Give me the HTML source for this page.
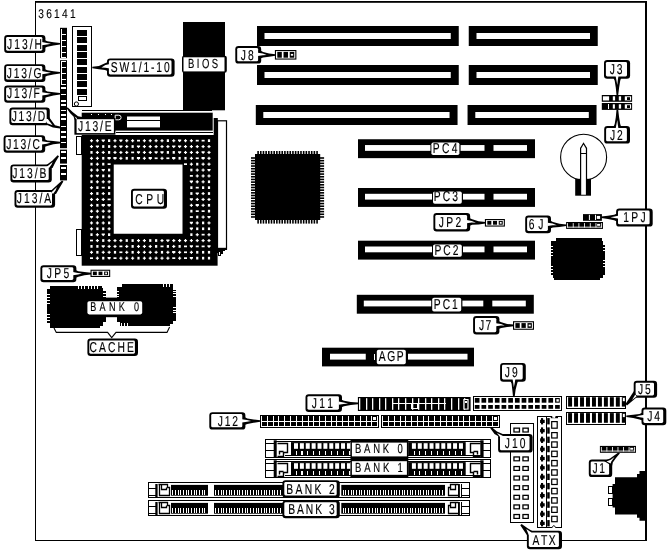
<!DOCTYPE html>
<html><head><meta charset="utf-8"><title>36141</title>
<style>
html,body{margin:0;padding:0;background:#fff;}
body{width:670px;height:553px;overflow:hidden;}
svg{display:block;will-change:transform;}
rect,polygon.c{shape-rendering:crispEdges;}
rect.a{shape-rendering:auto;}
text{font-family:"Liberation Sans",sans-serif;fill:#000;stroke:#000;stroke-width:0.15px;text-rendering:geometricPrecision;}
</style></head><body>
<svg width="670" height="553" viewBox="0 0 670 553">
<rect x="0" y="0" width="670" height="553" fill="#fff"/>
<rect x="35" y="1" width="1.05" height="539.9" fill="#000"/>
<rect x="35" y="1" width="612" height="1.8" fill="#000" class="a"/>
<rect x="645" y="1" width="2" height="539.9" fill="#000" class="a"/>
<rect x="35" y="539.6" width="612" height="1.3" fill="#000"/>
<text transform="translate(38.21 18) scale(0.8 1)" font-size="12.7" x="0 9.95 19.9 29.84 39.79">36141</text>
<rect x="257" y="26" width="201.75" height="20" fill="#000" class="a"/>
<rect x="264.5" y="33" width="186.25" height="6" fill="#fff" class="a"/>
<rect x="468.75" y="26" width="129" height="20" fill="#000" class="a"/>
<rect x="476.5" y="33" width="113.5" height="6" fill="#fff" class="a"/>
<rect x="257" y="65" width="201.75" height="20" fill="#000" class="a"/>
<rect x="264.5" y="72" width="186.25" height="6" fill="#fff" class="a"/>
<rect x="468.75" y="65" width="129" height="20" fill="#000" class="a"/>
<rect x="476.5" y="72" width="113.5" height="6" fill="#fff" class="a"/>
<rect x="255.8" y="105" width="201.75" height="20" fill="#000" class="a"/>
<rect x="263.3" y="112" width="186.25" height="6" fill="#fff" class="a"/>
<rect x="467.55" y="105" width="129" height="20" fill="#000" class="a"/>
<rect x="475.3" y="112" width="113.5" height="6" fill="#fff" class="a"/>
<rect x="358" y="139.25" width="177" height="18.9" fill="#000" class="a"/>
<rect x="365" y="145.05" width="119.5" height="5.8" fill="#fff" class="a"/>
<rect x="493.5" y="145.05" width="33.5" height="5.8" fill="#fff" class="a"/>
<rect x="430.4" y="141.4" width="30.2" height="14.9" rx="2.5" fill="#000" class="a"/>
<rect x="431.4" y="142.4" width="28" height="12.7" rx="1.8" fill="#fff" class="a"/>
<text transform="translate(432.76 153.4) scale(0.72 1)" font-size="14.3" x="0 12.74 26.27">PC4</text>
<rect x="358" y="188" width="177" height="18.9" fill="#000" class="a"/>
<rect x="365" y="193.8" width="119.5" height="5.8" fill="#fff" class="a"/>
<rect x="493.5" y="193.8" width="33.5" height="5.8" fill="#fff" class="a"/>
<rect x="432" y="190.4" width="31" height="14.6" rx="2.5" fill="#000" class="a"/>
<rect x="433" y="191.4" width="28.8" height="12.4" rx="1.8" fill="#fff" class="a"/>
<text transform="translate(433.76 200.9) scale(0.72 1)" font-size="14.3" x="0 12.5 25.79">PC3</text>
<rect x="358" y="240.7" width="177" height="18.9" fill="#000" class="a"/>
<rect x="365" y="246.5" width="119.5" height="5.8" fill="#fff" class="a"/>
<rect x="493.5" y="246.5" width="33.5" height="5.8" fill="#fff" class="a"/>
<rect x="432" y="243.5" width="31" height="14.5" rx="2.5" fill="#000" class="a"/>
<rect x="433" y="244.5" width="28.8" height="12.3" rx="1.8" fill="#fff" class="a"/>
<text transform="translate(434.46 254.9) scale(0.72 1)" font-size="14.3" x="0 12.34 25.46">PC2</text>
<rect x="356.8" y="294.8" width="177" height="18.9" fill="#000" class="a"/>
<rect x="363.8" y="300.6" width="119.5" height="5.8" fill="#fff" class="a"/>
<rect x="492.3" y="300.6" width="33.5" height="5.8" fill="#fff" class="a"/>
<rect x="431.2" y="296.7" width="31.2" height="16.1" rx="2.5" fill="#000" class="a"/>
<rect x="432.2" y="297.7" width="29" height="13.9" rx="1.8" fill="#fff" class="a"/>
<text transform="translate(433.86 308.9) scale(0.72 1)" font-size="14.3" x="0 12.26 25.31">PC1</text>
<rect x="322" y="347.7" width="152" height="18.7" fill="#000" class="a"/>
<rect x="330" y="353.75" width="35.75" height="5.85" fill="#fff" class="a"/>
<rect x="373.6" y="354" width="1.4" height="5.6" fill="#fff"/>
<rect x="408" y="353.75" width="59.5" height="5.85" fill="#fff" class="a"/>
<rect x="375.8" y="348.8" width="31.2" height="16.6" rx="2.5" fill="#000" class="a"/>
<rect x="376.8" y="349.8" width="29" height="14.4" rx="1.8" fill="#fff" class="a"/>
<text transform="translate(378.78 361.3) scale(0.72 1)" font-size="14.3" x="0 11.64 24.86">AGP</text>
<rect x="183" y="22" width="42" height="88.3" fill="#000" class="a"/>
<rect x="182" y="55.7" width="44.8" height="17" rx="2" fill="#000" class="a"/>
<rect x="183.5" y="57.3" width="41" height="14.1" fill="#fff" class="a"/>
<text transform="translate(188.02 67.7) scale(0.72 1)" font-size="13.2" x="0 12.23 19.33 33.02">BIOS</text>
<rect x="81.7" y="110.3" width="130.3" height="1" fill="#000"/>
<rect x="81.7" y="112.7" width="131" height="17.9" fill="#000" class="a"/>
<rect x="115.5" y="132.2" width="97.5" height="1" fill="#000"/>
<rect x="127" y="116.5" width="33" height="10.9" fill="#fff" class="a"/>
<rect x="127" y="119.9" width="33" height="1" fill="#000"/>
<rect x="90.8" y="114.2" width="1.2" height="1.2" fill="#fff"/>
<rect x="97.9" y="114.2" width="1.2" height="1.2" fill="#fff"/>
<rect x="104.7" y="114.2" width="1.2" height="1.2" fill="#fff"/>
<rect x="111.1" y="114.2" width="1.2" height="1.2" fill="#fff"/>
<path d="M115.2 115.2 h3.6 a2.3 2.3 0 0 1 0 4.6 h-3.6 z" fill="none" stroke="#fff" stroke-width="1"/>
<rect x="81.7" y="135" width="135.9" height="130.7" fill="#000" class="a"/>
<rect x="213.7" y="118" width="4.1" height="18" fill="#000" class="a"/>
<rect x="113.75" y="164.5" width="68.75" height="69.25" fill="#fff" class="a"/>
<rect x="76" y="136" width="6" height="19" fill="#000" />
<rect x="77" y="137" width="4" height="17" fill="#fff" />
<rect x="76" y="229" width="6" height="27" fill="#000" />
<rect x="77" y="230" width="4" height="25" fill="#fff" />
<rect x="216.9" y="120.2" width="10.2" height="129.5" fill="#000" class="a"/>
<rect x="218.1" y="121.4" width="7.8" height="126.4" fill="#fff" class="a"/>
<polygon points="216.8,247.8 227.1,247.8 227.1,249.7 225,249.7 225,251.2 223.1,251.2 223.1,253.8 220.9,253.8 220.9,255.6 217.8,255.6 217.8,253 216.8,253" fill="#000" shape-rendering="crispEdges"/>
<rect x="218.9" y="251.8" width="1.1" height="3.2" fill="#fff" />
<rect x="89.95" y="140.1" width="3.1" height="1.2" fill="#fff" class="a"/>
<rect x="90.9" y="139.15" width="1.2" height="3.1" fill="#fff" class="a"/>
<rect x="89.95" y="145.97" width="3.1" height="1.2" fill="#fff" class="a"/>
<rect x="90.9" y="145.02" width="1.2" height="3.1" fill="#fff" class="a"/>
<rect x="90.4" y="151.05" width="2.2" height="2.7" fill="#fff" class="a"/>
<rect x="89.95" y="157.72" width="3.1" height="1.2" fill="#fff" class="a"/>
<rect x="90.9" y="156.77" width="1.2" height="3.1" fill="#fff" class="a"/>
<rect x="90.4" y="162.8" width="2.2" height="2.7" fill="#fff" class="a"/>
<rect x="89.95" y="169.47" width="3.1" height="1.2" fill="#fff" class="a"/>
<rect x="90.9" y="168.52" width="1.2" height="3.1" fill="#fff" class="a"/>
<rect x="89.95" y="175.35" width="3.1" height="1.2" fill="#fff" class="a"/>
<rect x="90.9" y="174.4" width="1.2" height="3.1" fill="#fff" class="a"/>
<rect x="90.4" y="180.42" width="2.2" height="2.7" fill="#fff" class="a"/>
<rect x="89.95" y="187.1" width="3.1" height="1.2" fill="#fff" class="a"/>
<rect x="90.9" y="186.15" width="1.2" height="3.1" fill="#fff" class="a"/>
<rect x="89.95" y="192.97" width="3.1" height="1.2" fill="#fff" class="a"/>
<rect x="90.9" y="192.02" width="1.2" height="3.1" fill="#fff" class="a"/>
<rect x="89.95" y="198.85" width="3.1" height="1.2" fill="#fff" class="a"/>
<rect x="90.9" y="197.9" width="1.2" height="3.1" fill="#fff" class="a"/>
<rect x="89.95" y="204.72" width="3.1" height="1.2" fill="#fff" class="a"/>
<rect x="90.9" y="203.77" width="1.2" height="3.1" fill="#fff" class="a"/>
<rect x="89.95" y="210.6" width="3.1" height="1.2" fill="#fff" class="a"/>
<rect x="90.9" y="209.65" width="1.2" height="3.1" fill="#fff" class="a"/>
<polygon points="89.9,215.88 93.1,215.88 93.1,217.07 91.5,218.67 89.9,217.07" fill="#fff"/>
<rect x="89.95" y="222.35" width="3.1" height="1.2" fill="#fff" class="a"/>
<rect x="90.9" y="221.4" width="1.2" height="3.1" fill="#fff" class="a"/>
<rect x="89.95" y="228.22" width="3.1" height="1.2" fill="#fff" class="a"/>
<rect x="90.9" y="227.27" width="1.2" height="3.1" fill="#fff" class="a"/>
<rect x="90.4" y="233.3" width="2.2" height="2.7" fill="#fff" class="a"/>
<rect x="90" y="239.67" width="3" height="1.7" fill="#fff" class="a"/>
<rect x="90.4" y="245.05" width="2.2" height="2.7" fill="#fff" class="a"/>
<rect x="89.95" y="251.72" width="3.1" height="1.2" fill="#fff" class="a"/>
<rect x="90.9" y="250.77" width="1.2" height="3.1" fill="#fff" class="a"/>
<rect x="90" y="257.3" width="3" height="1.7" fill="#fff" class="a"/>
<rect x="95.83" y="140.1" width="3.1" height="1.2" fill="#fff" class="a"/>
<rect x="96.78" y="139.15" width="1.2" height="3.1" fill="#fff" class="a"/>
<polygon points="95.78,145.38 98.97,145.38 98.97,146.57 97.38,148.17 95.78,146.57" fill="#fff"/>
<rect x="95.83" y="151.85" width="3.1" height="1.2" fill="#fff" class="a"/>
<rect x="96.78" y="150.9" width="1.2" height="3.1" fill="#fff" class="a"/>
<rect x="95.83" y="157.72" width="3.1" height="1.2" fill="#fff" class="a"/>
<rect x="96.78" y="156.77" width="1.2" height="3.1" fill="#fff" class="a"/>
<rect x="95.83" y="163.6" width="3.1" height="1.2" fill="#fff" class="a"/>
<rect x="96.78" y="162.65" width="1.2" height="3.1" fill="#fff" class="a"/>
<rect x="95.83" y="169.47" width="3.1" height="1.2" fill="#fff" class="a"/>
<rect x="96.78" y="168.52" width="1.2" height="3.1" fill="#fff" class="a"/>
<polygon points="95.78,174.75 98.97,174.75 98.97,175.95 97.38,177.55 95.78,175.95" fill="#fff"/>
<rect x="95.83" y="181.22" width="3.1" height="1.2" fill="#fff" class="a"/>
<rect x="96.78" y="180.27" width="1.2" height="3.1" fill="#fff" class="a"/>
<rect x="96.28" y="186.3" width="2.2" height="2.7" fill="#fff" class="a"/>
<rect x="96.28" y="192.17" width="2.2" height="2.7" fill="#fff" class="a"/>
<rect x="95.83" y="198.85" width="3.1" height="1.2" fill="#fff" class="a"/>
<rect x="96.78" y="197.9" width="1.2" height="3.1" fill="#fff" class="a"/>
<rect x="96.28" y="203.92" width="2.2" height="2.7" fill="#fff" class="a"/>
<rect x="95.83" y="210.6" width="3.1" height="1.2" fill="#fff" class="a"/>
<rect x="96.78" y="209.65" width="1.2" height="3.1" fill="#fff" class="a"/>
<rect x="95.83" y="216.47" width="3.1" height="1.2" fill="#fff" class="a"/>
<rect x="96.78" y="215.52" width="1.2" height="3.1" fill="#fff" class="a"/>
<rect x="95.83" y="222.35" width="3.1" height="1.2" fill="#fff" class="a"/>
<rect x="96.78" y="221.4" width="1.2" height="3.1" fill="#fff" class="a"/>
<rect x="96.28" y="227.42" width="2.2" height="2.7" fill="#fff" class="a"/>
<rect x="95.83" y="234.1" width="3.1" height="1.2" fill="#fff" class="a"/>
<rect x="96.78" y="233.15" width="1.2" height="3.1" fill="#fff" class="a"/>
<rect x="95.83" y="239.97" width="3.1" height="1.2" fill="#fff" class="a"/>
<rect x="96.78" y="239.02" width="1.2" height="3.1" fill="#fff" class="a"/>
<rect x="96.28" y="245.05" width="2.2" height="2.7" fill="#fff" class="a"/>
<rect x="96.28" y="250.92" width="2.2" height="2.7" fill="#fff" class="a"/>
<rect x="95.83" y="257.6" width="3.1" height="1.2" fill="#fff" class="a"/>
<rect x="96.78" y="256.65" width="1.2" height="3.1" fill="#fff" class="a"/>
<polygon points="101.65,139.5 104.85,139.5 104.85,140.7 103.25,142.3 101.65,140.7" fill="#fff"/>
<rect x="102.15" y="145.17" width="2.2" height="2.7" fill="#fff" class="a"/>
<rect x="101.7" y="151.85" width="3.1" height="1.2" fill="#fff" class="a"/>
<rect x="102.65" y="150.9" width="1.2" height="3.1" fill="#fff" class="a"/>
<rect x="102.15" y="156.92" width="2.2" height="2.7" fill="#fff" class="a"/>
<rect x="102.15" y="162.8" width="2.2" height="2.7" fill="#fff" class="a"/>
<polygon points="101.65,168.88 104.85,168.88 104.85,170.07 103.25,171.67 101.65,170.07" fill="#fff"/>
<rect x="102.15" y="174.55" width="2.2" height="2.7" fill="#fff" class="a"/>
<rect x="101.7" y="181.22" width="3.1" height="1.2" fill="#fff" class="a"/>
<rect x="102.65" y="180.27" width="1.2" height="3.1" fill="#fff" class="a"/>
<rect x="101.75" y="186.8" width="3" height="1.7" fill="#fff" class="a"/>
<rect x="101.7" y="192.97" width="3.1" height="1.2" fill="#fff" class="a"/>
<rect x="102.65" y="192.02" width="1.2" height="3.1" fill="#fff" class="a"/>
<rect x="101.7" y="198.85" width="3.1" height="1.2" fill="#fff" class="a"/>
<rect x="102.65" y="197.9" width="1.2" height="3.1" fill="#fff" class="a"/>
<polygon points="101.65,204.12 104.85,204.12 104.85,205.32 103.25,206.92 101.65,205.32" fill="#fff"/>
<rect x="101.7" y="210.6" width="3.1" height="1.2" fill="#fff" class="a"/>
<rect x="102.65" y="209.65" width="1.2" height="3.1" fill="#fff" class="a"/>
<rect x="102.15" y="215.67" width="2.2" height="2.7" fill="#fff" class="a"/>
<rect x="101.7" y="222.35" width="3.1" height="1.2" fill="#fff" class="a"/>
<rect x="102.65" y="221.4" width="1.2" height="3.1" fill="#fff" class="a"/>
<rect x="102.15" y="227.42" width="2.2" height="2.7" fill="#fff" class="a"/>
<polygon points="101.65,233.5 104.85,233.5 104.85,234.7 103.25,236.3 101.65,234.7" fill="#fff"/>
<rect x="102.15" y="239.17" width="2.2" height="2.7" fill="#fff" class="a"/>
<polygon points="101.65,245.25 104.85,245.25 104.85,246.45 103.25,248.05 101.65,246.45" fill="#fff"/>
<rect x="101.7" y="251.72" width="3.1" height="1.2" fill="#fff" class="a"/>
<rect x="102.65" y="250.77" width="1.2" height="3.1" fill="#fff" class="a"/>
<rect x="102.15" y="256.8" width="2.2" height="2.7" fill="#fff" class="a"/>
<rect x="108.03" y="139.3" width="2.2" height="2.7" fill="#fff" class="a"/>
<rect x="108.03" y="145.17" width="2.2" height="2.7" fill="#fff" class="a"/>
<rect x="108.03" y="151.05" width="2.2" height="2.7" fill="#fff" class="a"/>
<polygon points="107.53,157.12 110.72,157.12 110.72,158.32 109.12,159.92 107.53,158.32" fill="#fff"/>
<rect x="107.62" y="163.3" width="3" height="1.7" fill="#fff" class="a"/>
<rect x="108.03" y="168.67" width="2.2" height="2.7" fill="#fff" class="a"/>
<rect x="108.03" y="174.55" width="2.2" height="2.7" fill="#fff" class="a"/>
<rect x="107.58" y="181.22" width="3.1" height="1.2" fill="#fff" class="a"/>
<rect x="108.53" y="180.27" width="1.2" height="3.1" fill="#fff" class="a"/>
<rect x="108.03" y="186.3" width="2.2" height="2.7" fill="#fff" class="a"/>
<rect x="108.03" y="192.17" width="2.2" height="2.7" fill="#fff" class="a"/>
<rect x="107.62" y="198.55" width="3" height="1.7" fill="#fff" class="a"/>
<polygon points="107.53,204.12 110.72,204.12 110.72,205.32 109.12,206.92 107.53,205.32" fill="#fff"/>
<rect x="107.58" y="210.6" width="3.1" height="1.2" fill="#fff" class="a"/>
<rect x="108.53" y="209.65" width="1.2" height="3.1" fill="#fff" class="a"/>
<rect x="107.58" y="216.47" width="3.1" height="1.2" fill="#fff" class="a"/>
<rect x="108.53" y="215.52" width="1.2" height="3.1" fill="#fff" class="a"/>
<rect x="108.03" y="221.55" width="2.2" height="2.7" fill="#fff" class="a"/>
<rect x="107.58" y="228.22" width="3.1" height="1.2" fill="#fff" class="a"/>
<rect x="108.53" y="227.27" width="1.2" height="3.1" fill="#fff" class="a"/>
<rect x="108.03" y="233.3" width="2.2" height="2.7" fill="#fff" class="a"/>
<rect x="107.58" y="239.97" width="3.1" height="1.2" fill="#fff" class="a"/>
<rect x="108.53" y="239.02" width="1.2" height="3.1" fill="#fff" class="a"/>
<rect x="107.58" y="245.85" width="3.1" height="1.2" fill="#fff" class="a"/>
<rect x="108.53" y="244.9" width="1.2" height="3.1" fill="#fff" class="a"/>
<rect x="107.58" y="251.72" width="3.1" height="1.2" fill="#fff" class="a"/>
<rect x="108.53" y="250.77" width="1.2" height="3.1" fill="#fff" class="a"/>
<polygon points="107.53,257 110.72,257 110.72,258.2 109.12,259.8 107.53,258.2" fill="#fff"/>
<rect x="113.45" y="140.1" width="3.1" height="1.2" fill="#fff" class="a"/>
<rect x="114.4" y="139.15" width="1.2" height="3.1" fill="#fff" class="a"/>
<rect x="113.45" y="145.97" width="3.1" height="1.2" fill="#fff" class="a"/>
<rect x="114.4" y="145.02" width="1.2" height="3.1" fill="#fff" class="a"/>
<rect x="113.45" y="151.85" width="3.1" height="1.2" fill="#fff" class="a"/>
<rect x="114.4" y="150.9" width="1.2" height="3.1" fill="#fff" class="a"/>
<polygon points="113.4,157.12 116.6,157.12 116.6,158.32 115,159.92 113.4,158.32" fill="#fff"/>
<rect x="113.45" y="239.97" width="3.1" height="1.2" fill="#fff" class="a"/>
<rect x="114.4" y="239.02" width="1.2" height="3.1" fill="#fff" class="a"/>
<rect x="113.45" y="245.85" width="3.1" height="1.2" fill="#fff" class="a"/>
<rect x="114.4" y="244.9" width="1.2" height="3.1" fill="#fff" class="a"/>
<rect x="113.9" y="250.92" width="2.2" height="2.7" fill="#fff" class="a"/>
<rect x="113.5" y="257.3" width="3" height="1.7" fill="#fff" class="a"/>
<polygon points="119.28,139.5 122.47,139.5 122.47,140.7 120.88,142.3 119.28,140.7" fill="#fff"/>
<polygon points="119.28,145.38 122.47,145.38 122.47,146.57 120.88,148.17 119.28,146.57" fill="#fff"/>
<rect x="119.33" y="151.85" width="3.1" height="1.2" fill="#fff" class="a"/>
<rect x="120.28" y="150.9" width="1.2" height="3.1" fill="#fff" class="a"/>
<rect x="119.33" y="157.72" width="3.1" height="1.2" fill="#fff" class="a"/>
<rect x="120.28" y="156.77" width="1.2" height="3.1" fill="#fff" class="a"/>
<rect x="119.33" y="239.97" width="3.1" height="1.2" fill="#fff" class="a"/>
<rect x="120.28" y="239.02" width="1.2" height="3.1" fill="#fff" class="a"/>
<rect x="119.38" y="245.55" width="3" height="1.7" fill="#fff" class="a"/>
<rect x="119.38" y="251.42" width="3" height="1.7" fill="#fff" class="a"/>
<rect x="119.33" y="257.6" width="3.1" height="1.2" fill="#fff" class="a"/>
<rect x="120.28" y="256.65" width="1.2" height="3.1" fill="#fff" class="a"/>
<rect x="125.2" y="140.1" width="3.1" height="1.2" fill="#fff" class="a"/>
<rect x="126.15" y="139.15" width="1.2" height="3.1" fill="#fff" class="a"/>
<rect x="125.2" y="145.97" width="3.1" height="1.2" fill="#fff" class="a"/>
<rect x="126.15" y="145.02" width="1.2" height="3.1" fill="#fff" class="a"/>
<rect x="125.2" y="151.85" width="3.1" height="1.2" fill="#fff" class="a"/>
<rect x="126.15" y="150.9" width="1.2" height="3.1" fill="#fff" class="a"/>
<rect x="125.65" y="156.92" width="2.2" height="2.7" fill="#fff" class="a"/>
<rect x="125.65" y="239.17" width="2.2" height="2.7" fill="#fff" class="a"/>
<rect x="125.2" y="245.85" width="3.1" height="1.2" fill="#fff" class="a"/>
<rect x="126.15" y="244.9" width="1.2" height="3.1" fill="#fff" class="a"/>
<rect x="125.2" y="251.72" width="3.1" height="1.2" fill="#fff" class="a"/>
<rect x="126.15" y="250.77" width="1.2" height="3.1" fill="#fff" class="a"/>
<rect x="125.2" y="257.6" width="3.1" height="1.2" fill="#fff" class="a"/>
<rect x="126.15" y="256.65" width="1.2" height="3.1" fill="#fff" class="a"/>
<rect x="131.07" y="140.1" width="3.1" height="1.2" fill="#fff" class="a"/>
<rect x="132.03" y="139.15" width="1.2" height="3.1" fill="#fff" class="a"/>
<rect x="131.53" y="145.17" width="2.2" height="2.7" fill="#fff" class="a"/>
<rect x="131.12" y="151.55" width="3" height="1.7" fill="#fff" class="a"/>
<rect x="131.53" y="156.92" width="2.2" height="2.7" fill="#fff" class="a"/>
<rect x="131.53" y="239.17" width="2.2" height="2.7" fill="#fff" class="a"/>
<rect x="131.53" y="245.05" width="2.2" height="2.7" fill="#fff" class="a"/>
<rect x="131.53" y="250.92" width="2.2" height="2.7" fill="#fff" class="a"/>
<rect x="131.07" y="257.6" width="3.1" height="1.2" fill="#fff" class="a"/>
<rect x="132.03" y="256.65" width="1.2" height="3.1" fill="#fff" class="a"/>
<rect x="137" y="139.8" width="3" height="1.7" fill="#fff" class="a"/>
<polygon points="136.9,145.38 140.1,145.38 140.1,146.57 138.5,148.17 136.9,146.57" fill="#fff"/>
<polygon points="136.9,151.25 140.1,151.25 140.1,152.45 138.5,154.05 136.9,152.45" fill="#fff"/>
<polygon points="136.9,157.12 140.1,157.12 140.1,158.32 138.5,159.92 136.9,158.32" fill="#fff"/>
<rect x="136.95" y="239.97" width="3.1" height="1.2" fill="#fff" class="a"/>
<rect x="137.9" y="239.02" width="1.2" height="3.1" fill="#fff" class="a"/>
<rect x="136.95" y="245.85" width="3.1" height="1.2" fill="#fff" class="a"/>
<rect x="137.9" y="244.9" width="1.2" height="3.1" fill="#fff" class="a"/>
<rect x="136.95" y="251.72" width="3.1" height="1.2" fill="#fff" class="a"/>
<rect x="137.9" y="250.77" width="1.2" height="3.1" fill="#fff" class="a"/>
<rect x="137.4" y="256.8" width="2.2" height="2.7" fill="#fff" class="a"/>
<rect x="142.82" y="140.1" width="3.1" height="1.2" fill="#fff" class="a"/>
<rect x="143.78" y="139.15" width="1.2" height="3.1" fill="#fff" class="a"/>
<rect x="142.82" y="145.97" width="3.1" height="1.2" fill="#fff" class="a"/>
<rect x="143.78" y="145.02" width="1.2" height="3.1" fill="#fff" class="a"/>
<rect x="142.82" y="151.85" width="3.1" height="1.2" fill="#fff" class="a"/>
<rect x="143.78" y="150.9" width="1.2" height="3.1" fill="#fff" class="a"/>
<rect x="142.82" y="157.72" width="3.1" height="1.2" fill="#fff" class="a"/>
<rect x="143.78" y="156.77" width="1.2" height="3.1" fill="#fff" class="a"/>
<rect x="142.82" y="239.97" width="3.1" height="1.2" fill="#fff" class="a"/>
<rect x="143.78" y="239.02" width="1.2" height="3.1" fill="#fff" class="a"/>
<rect x="142.82" y="245.85" width="3.1" height="1.2" fill="#fff" class="a"/>
<rect x="143.78" y="244.9" width="1.2" height="3.1" fill="#fff" class="a"/>
<rect x="142.82" y="251.72" width="3.1" height="1.2" fill="#fff" class="a"/>
<rect x="143.78" y="250.77" width="1.2" height="3.1" fill="#fff" class="a"/>
<rect x="142.82" y="257.6" width="3.1" height="1.2" fill="#fff" class="a"/>
<rect x="143.78" y="256.65" width="1.2" height="3.1" fill="#fff" class="a"/>
<rect x="148.7" y="140.1" width="3.1" height="1.2" fill="#fff" class="a"/>
<rect x="149.65" y="139.15" width="1.2" height="3.1" fill="#fff" class="a"/>
<rect x="148.7" y="145.97" width="3.1" height="1.2" fill="#fff" class="a"/>
<rect x="149.65" y="145.02" width="1.2" height="3.1" fill="#fff" class="a"/>
<rect x="148.7" y="151.85" width="3.1" height="1.2" fill="#fff" class="a"/>
<rect x="149.65" y="150.9" width="1.2" height="3.1" fill="#fff" class="a"/>
<polygon points="148.65,157.12 151.85,157.12 151.85,158.32 150.25,159.92 148.65,158.32" fill="#fff"/>
<rect x="149.15" y="239.17" width="2.2" height="2.7" fill="#fff" class="a"/>
<rect x="148.7" y="245.85" width="3.1" height="1.2" fill="#fff" class="a"/>
<rect x="149.65" y="244.9" width="1.2" height="3.1" fill="#fff" class="a"/>
<rect x="148.7" y="251.72" width="3.1" height="1.2" fill="#fff" class="a"/>
<rect x="149.65" y="250.77" width="1.2" height="3.1" fill="#fff" class="a"/>
<rect x="148.7" y="257.6" width="3.1" height="1.2" fill="#fff" class="a"/>
<rect x="149.65" y="256.65" width="1.2" height="3.1" fill="#fff" class="a"/>
<rect x="154.57" y="140.1" width="3.1" height="1.2" fill="#fff" class="a"/>
<rect x="155.53" y="139.15" width="1.2" height="3.1" fill="#fff" class="a"/>
<rect x="154.57" y="145.97" width="3.1" height="1.2" fill="#fff" class="a"/>
<rect x="155.53" y="145.02" width="1.2" height="3.1" fill="#fff" class="a"/>
<polygon points="154.53,151.25 157.72,151.25 157.72,152.45 156.12,154.05 154.53,152.45" fill="#fff"/>
<rect x="154.62" y="157.42" width="3" height="1.7" fill="#fff" class="a"/>
<rect x="155.03" y="239.17" width="2.2" height="2.7" fill="#fff" class="a"/>
<rect x="155.03" y="245.05" width="2.2" height="2.7" fill="#fff" class="a"/>
<rect x="154.57" y="251.72" width="3.1" height="1.2" fill="#fff" class="a"/>
<rect x="155.53" y="250.77" width="1.2" height="3.1" fill="#fff" class="a"/>
<rect x="154.57" y="257.6" width="3.1" height="1.2" fill="#fff" class="a"/>
<rect x="155.53" y="256.65" width="1.2" height="3.1" fill="#fff" class="a"/>
<rect x="160.45" y="140.1" width="3.1" height="1.2" fill="#fff" class="a"/>
<rect x="161.4" y="139.15" width="1.2" height="3.1" fill="#fff" class="a"/>
<rect x="160.45" y="145.97" width="3.1" height="1.2" fill="#fff" class="a"/>
<rect x="161.4" y="145.02" width="1.2" height="3.1" fill="#fff" class="a"/>
<polygon points="160.4,151.25 163.6,151.25 163.6,152.45 162,154.05 160.4,152.45" fill="#fff"/>
<rect x="160.45" y="157.72" width="3.1" height="1.2" fill="#fff" class="a"/>
<rect x="161.4" y="156.77" width="1.2" height="3.1" fill="#fff" class="a"/>
<rect x="160.45" y="239.97" width="3.1" height="1.2" fill="#fff" class="a"/>
<rect x="161.4" y="239.02" width="1.2" height="3.1" fill="#fff" class="a"/>
<rect x="160.5" y="245.55" width="3" height="1.7" fill="#fff" class="a"/>
<rect x="160.9" y="250.92" width="2.2" height="2.7" fill="#fff" class="a"/>
<rect x="160.45" y="257.6" width="3.1" height="1.2" fill="#fff" class="a"/>
<rect x="161.4" y="256.65" width="1.2" height="3.1" fill="#fff" class="a"/>
<rect x="166.78" y="139.3" width="2.2" height="2.7" fill="#fff" class="a"/>
<rect x="166.32" y="145.97" width="3.1" height="1.2" fill="#fff" class="a"/>
<rect x="167.28" y="145.02" width="1.2" height="3.1" fill="#fff" class="a"/>
<rect x="166.78" y="151.05" width="2.2" height="2.7" fill="#fff" class="a"/>
<rect x="166.38" y="157.42" width="3" height="1.7" fill="#fff" class="a"/>
<polygon points="166.28,239.38 169.47,239.38 169.47,240.57 167.88,242.17 166.28,240.57" fill="#fff"/>
<rect x="166.78" y="245.05" width="2.2" height="2.7" fill="#fff" class="a"/>
<rect x="166.32" y="251.72" width="3.1" height="1.2" fill="#fff" class="a"/>
<rect x="167.28" y="250.77" width="1.2" height="3.1" fill="#fff" class="a"/>
<rect x="166.32" y="257.6" width="3.1" height="1.2" fill="#fff" class="a"/>
<rect x="167.28" y="256.65" width="1.2" height="3.1" fill="#fff" class="a"/>
<rect x="172.2" y="140.1" width="3.1" height="1.2" fill="#fff" class="a"/>
<rect x="173.15" y="139.15" width="1.2" height="3.1" fill="#fff" class="a"/>
<polygon points="172.15,145.38 175.35,145.38 175.35,146.57 173.75,148.17 172.15,146.57" fill="#fff"/>
<rect x="172.65" y="151.05" width="2.2" height="2.7" fill="#fff" class="a"/>
<polygon points="172.15,157.12 175.35,157.12 175.35,158.32 173.75,159.92 172.15,158.32" fill="#fff"/>
<rect x="172.2" y="239.97" width="3.1" height="1.2" fill="#fff" class="a"/>
<rect x="173.15" y="239.02" width="1.2" height="3.1" fill="#fff" class="a"/>
<rect x="172.2" y="245.85" width="3.1" height="1.2" fill="#fff" class="a"/>
<rect x="173.15" y="244.9" width="1.2" height="3.1" fill="#fff" class="a"/>
<polygon points="172.15,251.12 175.35,251.12 175.35,252.32 173.75,253.92 172.15,252.32" fill="#fff"/>
<rect x="172.25" y="257.3" width="3" height="1.7" fill="#fff" class="a"/>
<polygon points="178.03,139.5 181.22,139.5 181.22,140.7 179.62,142.3 178.03,140.7" fill="#fff"/>
<polygon points="178.03,145.38 181.22,145.38 181.22,146.57 179.62,148.17 178.03,146.57" fill="#fff"/>
<polygon points="178.03,151.25 181.22,151.25 181.22,152.45 179.62,154.05 178.03,152.45" fill="#fff"/>
<rect x="178.53" y="156.92" width="2.2" height="2.7" fill="#fff" class="a"/>
<rect x="178.07" y="239.97" width="3.1" height="1.2" fill="#fff" class="a"/>
<rect x="179.03" y="239.02" width="1.2" height="3.1" fill="#fff" class="a"/>
<rect x="178.53" y="245.05" width="2.2" height="2.7" fill="#fff" class="a"/>
<rect x="178.07" y="251.72" width="3.1" height="1.2" fill="#fff" class="a"/>
<rect x="179.03" y="250.77" width="1.2" height="3.1" fill="#fff" class="a"/>
<rect x="178.07" y="257.6" width="3.1" height="1.2" fill="#fff" class="a"/>
<rect x="179.03" y="256.65" width="1.2" height="3.1" fill="#fff" class="a"/>
<rect x="183.95" y="140.1" width="3.1" height="1.2" fill="#fff" class="a"/>
<rect x="184.9" y="139.15" width="1.2" height="3.1" fill="#fff" class="a"/>
<rect x="183.95" y="145.97" width="3.1" height="1.2" fill="#fff" class="a"/>
<rect x="184.9" y="145.02" width="1.2" height="3.1" fill="#fff" class="a"/>
<rect x="183.95" y="151.85" width="3.1" height="1.2" fill="#fff" class="a"/>
<rect x="184.9" y="150.9" width="1.2" height="3.1" fill="#fff" class="a"/>
<rect x="184.4" y="156.92" width="2.2" height="2.7" fill="#fff" class="a"/>
<rect x="184" y="163.3" width="3" height="1.7" fill="#fff" class="a"/>
<rect x="183.95" y="239.97" width="3.1" height="1.2" fill="#fff" class="a"/>
<rect x="184.9" y="239.02" width="1.2" height="3.1" fill="#fff" class="a"/>
<rect x="184" y="245.55" width="3" height="1.7" fill="#fff" class="a"/>
<rect x="184" y="251.42" width="3" height="1.7" fill="#fff" class="a"/>
<rect x="184" y="257.3" width="3" height="1.7" fill="#fff" class="a"/>
<rect x="189.82" y="140.1" width="3.1" height="1.2" fill="#fff" class="a"/>
<rect x="190.78" y="139.15" width="1.2" height="3.1" fill="#fff" class="a"/>
<rect x="189.82" y="145.97" width="3.1" height="1.2" fill="#fff" class="a"/>
<rect x="190.78" y="145.02" width="1.2" height="3.1" fill="#fff" class="a"/>
<rect x="189.82" y="151.85" width="3.1" height="1.2" fill="#fff" class="a"/>
<rect x="190.78" y="150.9" width="1.2" height="3.1" fill="#fff" class="a"/>
<rect x="189.82" y="157.72" width="3.1" height="1.2" fill="#fff" class="a"/>
<rect x="190.78" y="156.77" width="1.2" height="3.1" fill="#fff" class="a"/>
<rect x="189.82" y="163.6" width="3.1" height="1.2" fill="#fff" class="a"/>
<rect x="190.78" y="162.65" width="1.2" height="3.1" fill="#fff" class="a"/>
<rect x="190.28" y="168.67" width="2.2" height="2.7" fill="#fff" class="a"/>
<rect x="189.88" y="175.05" width="3" height="1.7" fill="#fff" class="a"/>
<polygon points="189.78,180.62 192.97,180.62 192.97,181.82 191.38,183.42 189.78,181.82" fill="#fff"/>
<rect x="190.28" y="186.3" width="2.2" height="2.7" fill="#fff" class="a"/>
<rect x="190.28" y="192.17" width="2.2" height="2.7" fill="#fff" class="a"/>
<polygon points="189.78,198.25 192.97,198.25 192.97,199.45 191.38,201.05 189.78,199.45" fill="#fff"/>
<rect x="189.82" y="204.72" width="3.1" height="1.2" fill="#fff" class="a"/>
<rect x="190.78" y="203.77" width="1.2" height="3.1" fill="#fff" class="a"/>
<rect x="190.28" y="209.8" width="2.2" height="2.7" fill="#fff" class="a"/>
<rect x="189.88" y="216.17" width="3" height="1.7" fill="#fff" class="a"/>
<polygon points="189.78,221.75 192.97,221.75 192.97,222.95 191.38,224.55 189.78,222.95" fill="#fff"/>
<polygon points="189.78,227.62 192.97,227.62 192.97,228.82 191.38,230.42 189.78,228.82" fill="#fff"/>
<rect x="190.28" y="233.3" width="2.2" height="2.7" fill="#fff" class="a"/>
<rect x="189.82" y="239.97" width="3.1" height="1.2" fill="#fff" class="a"/>
<rect x="190.78" y="239.02" width="1.2" height="3.1" fill="#fff" class="a"/>
<polygon points="189.78,245.25 192.97,245.25 192.97,246.45 191.38,248.05 189.78,246.45" fill="#fff"/>
<rect x="189.82" y="251.72" width="3.1" height="1.2" fill="#fff" class="a"/>
<rect x="190.78" y="250.77" width="1.2" height="3.1" fill="#fff" class="a"/>
<polygon points="189.78,257 192.97,257 192.97,258.2 191.38,259.8 189.78,258.2" fill="#fff"/>
<rect x="195.75" y="139.8" width="3" height="1.7" fill="#fff" class="a"/>
<rect x="195.7" y="145.97" width="3.1" height="1.2" fill="#fff" class="a"/>
<rect x="196.65" y="145.02" width="1.2" height="3.1" fill="#fff" class="a"/>
<rect x="195.7" y="151.85" width="3.1" height="1.2" fill="#fff" class="a"/>
<rect x="196.65" y="150.9" width="1.2" height="3.1" fill="#fff" class="a"/>
<rect x="195.75" y="157.42" width="3" height="1.7" fill="#fff" class="a"/>
<rect x="196.15" y="162.8" width="2.2" height="2.7" fill="#fff" class="a"/>
<rect x="195.7" y="169.47" width="3.1" height="1.2" fill="#fff" class="a"/>
<rect x="196.65" y="168.52" width="1.2" height="3.1" fill="#fff" class="a"/>
<rect x="195.7" y="175.35" width="3.1" height="1.2" fill="#fff" class="a"/>
<rect x="196.65" y="174.4" width="1.2" height="3.1" fill="#fff" class="a"/>
<rect x="195.7" y="181.22" width="3.1" height="1.2" fill="#fff" class="a"/>
<rect x="196.65" y="180.27" width="1.2" height="3.1" fill="#fff" class="a"/>
<rect x="195.75" y="186.8" width="3" height="1.7" fill="#fff" class="a"/>
<polygon points="195.65,192.38 198.85,192.38 198.85,193.57 197.25,195.17 195.65,193.57" fill="#fff"/>
<rect x="195.7" y="198.85" width="3.1" height="1.2" fill="#fff" class="a"/>
<rect x="196.65" y="197.9" width="1.2" height="3.1" fill="#fff" class="a"/>
<polygon points="195.65,204.12 198.85,204.12 198.85,205.32 197.25,206.92 195.65,205.32" fill="#fff"/>
<rect x="195.75" y="210.3" width="3" height="1.7" fill="#fff" class="a"/>
<rect x="196.15" y="215.67" width="2.2" height="2.7" fill="#fff" class="a"/>
<rect x="195.7" y="222.35" width="3.1" height="1.2" fill="#fff" class="a"/>
<rect x="196.65" y="221.4" width="1.2" height="3.1" fill="#fff" class="a"/>
<rect x="196.15" y="227.42" width="2.2" height="2.7" fill="#fff" class="a"/>
<rect x="195.7" y="234.1" width="3.1" height="1.2" fill="#fff" class="a"/>
<rect x="196.65" y="233.15" width="1.2" height="3.1" fill="#fff" class="a"/>
<rect x="195.7" y="239.97" width="3.1" height="1.2" fill="#fff" class="a"/>
<rect x="196.65" y="239.02" width="1.2" height="3.1" fill="#fff" class="a"/>
<rect x="195.75" y="245.55" width="3" height="1.7" fill="#fff" class="a"/>
<rect x="196.15" y="250.92" width="2.2" height="2.7" fill="#fff" class="a"/>
<rect x="196.15" y="256.8" width="2.2" height="2.7" fill="#fff" class="a"/>
<rect x="201.62" y="139.8" width="3" height="1.7" fill="#fff" class="a"/>
<rect x="201.57" y="145.97" width="3.1" height="1.2" fill="#fff" class="a"/>
<rect x="202.53" y="145.02" width="1.2" height="3.1" fill="#fff" class="a"/>
<polygon points="201.53,151.25 204.72,151.25 204.72,152.45 203.12,154.05 201.53,152.45" fill="#fff"/>
<polygon points="201.53,157.12 204.72,157.12 204.72,158.32 203.12,159.92 201.53,158.32" fill="#fff"/>
<rect x="201.57" y="163.6" width="3.1" height="1.2" fill="#fff" class="a"/>
<rect x="202.53" y="162.65" width="1.2" height="3.1" fill="#fff" class="a"/>
<rect x="201.57" y="169.47" width="3.1" height="1.2" fill="#fff" class="a"/>
<rect x="202.53" y="168.52" width="1.2" height="3.1" fill="#fff" class="a"/>
<rect x="201.57" y="175.35" width="3.1" height="1.2" fill="#fff" class="a"/>
<rect x="202.53" y="174.4" width="1.2" height="3.1" fill="#fff" class="a"/>
<rect x="201.57" y="181.22" width="3.1" height="1.2" fill="#fff" class="a"/>
<rect x="202.53" y="180.27" width="1.2" height="3.1" fill="#fff" class="a"/>
<rect x="202.03" y="186.3" width="2.2" height="2.7" fill="#fff" class="a"/>
<rect x="201.57" y="192.97" width="3.1" height="1.2" fill="#fff" class="a"/>
<rect x="202.53" y="192.02" width="1.2" height="3.1" fill="#fff" class="a"/>
<rect x="201.57" y="198.85" width="3.1" height="1.2" fill="#fff" class="a"/>
<rect x="202.53" y="197.9" width="1.2" height="3.1" fill="#fff" class="a"/>
<rect x="201.57" y="204.72" width="3.1" height="1.2" fill="#fff" class="a"/>
<rect x="202.53" y="203.77" width="1.2" height="3.1" fill="#fff" class="a"/>
<rect x="201.62" y="210.3" width="3" height="1.7" fill="#fff" class="a"/>
<rect x="201.57" y="216.47" width="3.1" height="1.2" fill="#fff" class="a"/>
<rect x="202.53" y="215.52" width="1.2" height="3.1" fill="#fff" class="a"/>
<rect x="202.03" y="221.55" width="2.2" height="2.7" fill="#fff" class="a"/>
<rect x="202.03" y="227.42" width="2.2" height="2.7" fill="#fff" class="a"/>
<rect x="201.62" y="233.8" width="3" height="1.7" fill="#fff" class="a"/>
<rect x="201.57" y="239.97" width="3.1" height="1.2" fill="#fff" class="a"/>
<rect x="202.53" y="239.02" width="1.2" height="3.1" fill="#fff" class="a"/>
<rect x="201.62" y="245.55" width="3" height="1.7" fill="#fff" class="a"/>
<rect x="202.03" y="250.92" width="2.2" height="2.7" fill="#fff" class="a"/>
<rect x="202.03" y="256.8" width="2.2" height="2.7" fill="#fff" class="a"/>
<rect x="207.9" y="139.3" width="2.2" height="2.7" fill="#fff" class="a"/>
<rect x="207.45" y="145.97" width="3.1" height="1.2" fill="#fff" class="a"/>
<rect x="208.4" y="145.02" width="1.2" height="3.1" fill="#fff" class="a"/>
<rect x="207.45" y="151.85" width="3.1" height="1.2" fill="#fff" class="a"/>
<rect x="208.4" y="150.9" width="1.2" height="3.1" fill="#fff" class="a"/>
<rect x="207.45" y="157.72" width="3.1" height="1.2" fill="#fff" class="a"/>
<rect x="208.4" y="156.77" width="1.2" height="3.1" fill="#fff" class="a"/>
<rect x="207.45" y="163.6" width="3.1" height="1.2" fill="#fff" class="a"/>
<rect x="208.4" y="162.65" width="1.2" height="3.1" fill="#fff" class="a"/>
<polygon points="207.4,168.88 210.6,168.88 210.6,170.07 209,171.67 207.4,170.07" fill="#fff"/>
<rect x="207.45" y="175.35" width="3.1" height="1.2" fill="#fff" class="a"/>
<rect x="208.4" y="174.4" width="1.2" height="3.1" fill="#fff" class="a"/>
<rect x="207.9" y="180.42" width="2.2" height="2.7" fill="#fff" class="a"/>
<rect x="207.9" y="186.3" width="2.2" height="2.7" fill="#fff" class="a"/>
<rect x="207.9" y="192.17" width="2.2" height="2.7" fill="#fff" class="a"/>
<rect x="207.45" y="198.85" width="3.1" height="1.2" fill="#fff" class="a"/>
<rect x="208.4" y="197.9" width="1.2" height="3.1" fill="#fff" class="a"/>
<rect x="207.9" y="203.92" width="2.2" height="2.7" fill="#fff" class="a"/>
<rect x="207.9" y="209.8" width="2.2" height="2.7" fill="#fff" class="a"/>
<polygon points="207.4,215.88 210.6,215.88 210.6,217.07 209,218.67 207.4,217.07" fill="#fff"/>
<rect x="207.45" y="222.35" width="3.1" height="1.2" fill="#fff" class="a"/>
<rect x="208.4" y="221.4" width="1.2" height="3.1" fill="#fff" class="a"/>
<rect x="207.9" y="227.42" width="2.2" height="2.7" fill="#fff" class="a"/>
<rect x="207.45" y="234.1" width="3.1" height="1.2" fill="#fff" class="a"/>
<rect x="208.4" y="233.15" width="1.2" height="3.1" fill="#fff" class="a"/>
<rect x="207.45" y="239.97" width="3.1" height="1.2" fill="#fff" class="a"/>
<rect x="208.4" y="239.02" width="1.2" height="3.1" fill="#fff" class="a"/>
<polygon points="207.4,245.25 210.6,245.25 210.6,246.45 209,248.05 207.4,246.45" fill="#fff"/>
<rect x="207.9" y="250.92" width="2.2" height="2.7" fill="#fff" class="a"/>
<rect x="207.9" y="256.8" width="2.2" height="2.7" fill="#fff" class="a"/>
<rect x="131" y="188.8" width="36" height="19.9" rx="3.2" fill="#000" class="a"/>
<rect x="132.9" y="190.7" width="31" height="15.7" rx="1.4" fill="#fff" class="a"/>
<text transform="translate(135.27 204) scale(0.72 1)" font-size="14.3" x="0 15.31 29.84">CPU</text>
<rect x="255" y="154" width="65.2" height="66" fill="#000" class="a"/>
<rect x="257.3" y="151" width="1.6" height="3.5" fill="#000" class="a"/>
<rect x="257.3" y="219.5" width="1.6" height="4.1" fill="#000" class="a"/>
<rect x="251" y="157.2" width="4.5" height="1.6" fill="#000" class="a"/>
<rect x="319.5" y="157.2" width="4.6" height="1.6" fill="#000" class="a"/>
<rect x="259.98" y="151" width="1.6" height="3.5" fill="#000" class="a"/>
<rect x="259.98" y="219.5" width="1.6" height="4.1" fill="#000" class="a"/>
<rect x="251" y="159.88" width="4.5" height="1.6" fill="#000" class="a"/>
<rect x="319.5" y="159.88" width="4.6" height="1.6" fill="#000" class="a"/>
<rect x="262.66" y="151" width="1.6" height="3.5" fill="#000" class="a"/>
<rect x="262.66" y="219.5" width="1.6" height="4.1" fill="#000" class="a"/>
<rect x="251" y="162.56" width="4.5" height="1.6" fill="#000" class="a"/>
<rect x="319.5" y="162.56" width="4.6" height="1.6" fill="#000" class="a"/>
<rect x="265.34" y="151" width="1.6" height="3.5" fill="#000" class="a"/>
<rect x="265.34" y="219.5" width="1.6" height="4.1" fill="#000" class="a"/>
<rect x="251" y="165.24" width="4.5" height="1.6" fill="#000" class="a"/>
<rect x="319.5" y="165.24" width="4.6" height="1.6" fill="#000" class="a"/>
<rect x="268.02" y="151" width="1.6" height="3.5" fill="#000" class="a"/>
<rect x="268.02" y="219.5" width="1.6" height="4.1" fill="#000" class="a"/>
<rect x="251" y="167.92" width="4.5" height="1.6" fill="#000" class="a"/>
<rect x="319.5" y="167.92" width="4.6" height="1.6" fill="#000" class="a"/>
<rect x="270.7" y="151" width="1.6" height="3.5" fill="#000" class="a"/>
<rect x="270.7" y="219.5" width="1.6" height="4.1" fill="#000" class="a"/>
<rect x="251" y="170.6" width="4.5" height="1.6" fill="#000" class="a"/>
<rect x="319.5" y="170.6" width="4.6" height="1.6" fill="#000" class="a"/>
<rect x="273.38" y="151" width="1.6" height="3.5" fill="#000" class="a"/>
<rect x="273.38" y="219.5" width="1.6" height="4.1" fill="#000" class="a"/>
<rect x="251" y="173.28" width="4.5" height="1.6" fill="#000" class="a"/>
<rect x="319.5" y="173.28" width="4.6" height="1.6" fill="#000" class="a"/>
<rect x="276.06" y="151" width="1.6" height="3.5" fill="#000" class="a"/>
<rect x="276.06" y="219.5" width="1.6" height="4.1" fill="#000" class="a"/>
<rect x="251" y="175.96" width="4.5" height="1.6" fill="#000" class="a"/>
<rect x="319.5" y="175.96" width="4.6" height="1.6" fill="#000" class="a"/>
<rect x="278.74" y="151" width="1.6" height="3.5" fill="#000" class="a"/>
<rect x="278.74" y="219.5" width="1.6" height="4.1" fill="#000" class="a"/>
<rect x="251" y="178.64" width="4.5" height="1.6" fill="#000" class="a"/>
<rect x="319.5" y="178.64" width="4.6" height="1.6" fill="#000" class="a"/>
<rect x="281.42" y="151" width="1.6" height="3.5" fill="#000" class="a"/>
<rect x="281.42" y="219.5" width="1.6" height="4.1" fill="#000" class="a"/>
<rect x="251" y="181.32" width="4.5" height="1.6" fill="#000" class="a"/>
<rect x="319.5" y="181.32" width="4.6" height="1.6" fill="#000" class="a"/>
<rect x="284.1" y="151" width="1.6" height="3.5" fill="#000" class="a"/>
<rect x="284.1" y="219.5" width="1.6" height="4.1" fill="#000" class="a"/>
<rect x="251" y="184" width="4.5" height="1.6" fill="#000" class="a"/>
<rect x="319.5" y="184" width="4.6" height="1.6" fill="#000" class="a"/>
<rect x="286.78" y="151" width="1.6" height="3.5" fill="#000" class="a"/>
<rect x="286.78" y="219.5" width="1.6" height="4.1" fill="#000" class="a"/>
<rect x="251" y="186.68" width="4.5" height="1.6" fill="#000" class="a"/>
<rect x="319.5" y="186.68" width="4.6" height="1.6" fill="#000" class="a"/>
<rect x="289.46" y="151" width="1.6" height="3.5" fill="#000" class="a"/>
<rect x="289.46" y="219.5" width="1.6" height="4.1" fill="#000" class="a"/>
<rect x="251" y="189.36" width="4.5" height="1.6" fill="#000" class="a"/>
<rect x="319.5" y="189.36" width="4.6" height="1.6" fill="#000" class="a"/>
<rect x="292.14" y="151" width="1.6" height="3.5" fill="#000" class="a"/>
<rect x="292.14" y="219.5" width="1.6" height="4.1" fill="#000" class="a"/>
<rect x="251" y="192.04" width="4.5" height="1.6" fill="#000" class="a"/>
<rect x="319.5" y="192.04" width="4.6" height="1.6" fill="#000" class="a"/>
<rect x="294.82" y="151" width="1.6" height="3.5" fill="#000" class="a"/>
<rect x="294.82" y="219.5" width="1.6" height="4.1" fill="#000" class="a"/>
<rect x="251" y="194.72" width="4.5" height="1.6" fill="#000" class="a"/>
<rect x="319.5" y="194.72" width="4.6" height="1.6" fill="#000" class="a"/>
<rect x="297.5" y="151" width="1.6" height="3.5" fill="#000" class="a"/>
<rect x="297.5" y="219.5" width="1.6" height="4.1" fill="#000" class="a"/>
<rect x="251" y="197.4" width="4.5" height="1.6" fill="#000" class="a"/>
<rect x="319.5" y="197.4" width="4.6" height="1.6" fill="#000" class="a"/>
<rect x="300.18" y="151" width="1.6" height="3.5" fill="#000" class="a"/>
<rect x="300.18" y="219.5" width="1.6" height="4.1" fill="#000" class="a"/>
<rect x="251" y="200.08" width="4.5" height="1.6" fill="#000" class="a"/>
<rect x="319.5" y="200.08" width="4.6" height="1.6" fill="#000" class="a"/>
<rect x="302.86" y="151" width="1.6" height="3.5" fill="#000" class="a"/>
<rect x="302.86" y="219.5" width="1.6" height="4.1" fill="#000" class="a"/>
<rect x="251" y="202.76" width="4.5" height="1.6" fill="#000" class="a"/>
<rect x="319.5" y="202.76" width="4.6" height="1.6" fill="#000" class="a"/>
<rect x="305.54" y="151" width="1.6" height="3.5" fill="#000" class="a"/>
<rect x="305.54" y="219.5" width="1.6" height="4.1" fill="#000" class="a"/>
<rect x="251" y="205.44" width="4.5" height="1.6" fill="#000" class="a"/>
<rect x="319.5" y="205.44" width="4.6" height="1.6" fill="#000" class="a"/>
<rect x="308.22" y="151" width="1.6" height="3.5" fill="#000" class="a"/>
<rect x="308.22" y="219.5" width="1.6" height="4.1" fill="#000" class="a"/>
<rect x="251" y="208.12" width="4.5" height="1.6" fill="#000" class="a"/>
<rect x="319.5" y="208.12" width="4.6" height="1.6" fill="#000" class="a"/>
<rect x="310.9" y="151" width="1.6" height="3.5" fill="#000" class="a"/>
<rect x="310.9" y="219.5" width="1.6" height="4.1" fill="#000" class="a"/>
<rect x="251" y="210.8" width="4.5" height="1.6" fill="#000" class="a"/>
<rect x="319.5" y="210.8" width="4.6" height="1.6" fill="#000" class="a"/>
<rect x="313.58" y="151" width="1.6" height="3.5" fill="#000" class="a"/>
<rect x="313.58" y="219.5" width="1.6" height="4.1" fill="#000" class="a"/>
<rect x="251" y="213.48" width="4.5" height="1.6" fill="#000" class="a"/>
<rect x="319.5" y="213.48" width="4.6" height="1.6" fill="#000" class="a"/>
<rect x="316.26" y="151" width="1.6" height="3.5" fill="#000" class="a"/>
<rect x="316.26" y="219.5" width="1.6" height="4.1" fill="#000" class="a"/>
<rect x="251" y="216.16" width="4.5" height="1.6" fill="#000" class="a"/>
<rect x="319.5" y="216.16" width="4.6" height="1.6" fill="#000" class="a"/>
<polygon points="555.9,237.8 602.2,237.8 602.2,241 603.3,241 603.3,244 605,244 605,274.8 602.9,274.8 602.9,278 600.1,278 600.1,279.8 554,279.8 554,278 552.9,278 552.9,275 550.9,275 550.9,241 555.9,241" fill="#000" shape-rendering="crispEdges"/>
<rect x="550.5" y="246" width="2.7" height="1" fill="#fff"/>
<rect x="550.5" y="249" width="2.7" height="1" fill="#fff"/>
<rect x="550.5" y="252" width="2.7" height="1" fill="#fff"/>
<rect x="550.5" y="255" width="2.7" height="1" fill="#fff"/>
<rect x="550.5" y="266" width="2.7" height="1" fill="#fff"/>
<rect x="550.5" y="269" width="2.7" height="1" fill="#fff"/>
<rect x="550.5" y="272" width="2.7" height="1" fill="#fff"/>
<rect x="602.7" y="244" width="2.8" height="1" fill="#fff"/>
<rect x="602.7" y="247" width="2.8" height="1" fill="#fff"/>
<rect x="602.7" y="250" width="2.8" height="1" fill="#fff"/>
<rect x="602.7" y="260" width="2.8" height="1" fill="#fff"/>
<rect x="602.7" y="263" width="2.8" height="1" fill="#fff"/>
<rect x="602.7" y="266" width="2.8" height="1" fill="#fff"/>
<circle cx="583.6" cy="157.2" r="23" fill="#fff" stroke="#000" stroke-width="1.1"/>
<rect x="575.2" y="178.8" width="15.8" height="16.9" fill="#000" class="a"/>
<polygon points="580,148 581.6,145.5 583.5,142.3 585.5,145.5 587.1,148 587.1,194.7 580,194.7" fill="#000"/>
<polygon points="581.2,148.5 583.5,144.4 585.9,148.5 585.9,194.7 581.2,194.7" fill="#fff"/>
<rect x="581" y="153.3" width="5" height="0.9" fill="#000"/>
<polygon points="52,286 102,286 102,288 103.3,288 103.3,291 106,291 106,322.3 103.3,322.3 103.3,326 100.1,326 100.1,328 50.1,328 50.1,323 47,323 47,289.1 50.1,289.1 50.1,286" fill="#000" shape-rendering="crispEdges"/>
<polygon points="122.1,283.7 173.4,283.7 173.4,290 176,290 176,321 173.4,321 173.4,323.6 170,323.6 170,325.8 120.3,325.8 120.3,322.3 117.1,322.3 117.1,287.1 122.1,287.1" fill="#000" shape-rendering="crispEdges"/>
<rect x="46.6" y="294" width="3.6" height="1" fill="#fff"/>
<rect x="46.6" y="297" width="3.6" height="1" fill="#fff"/>
<rect x="46.6" y="300" width="3.6" height="1" fill="#fff"/>
<rect x="46.6" y="303" width="3.6" height="1" fill="#fff"/>
<rect x="46.6" y="314" width="3.6" height="1" fill="#fff"/>
<rect x="46.6" y="317" width="3.6" height="1" fill="#fff"/>
<rect x="46.6" y="320" width="3.6" height="1" fill="#fff"/>
<rect x="78" y="285.6" width="1" height="3.4" fill="#fff"/>
<rect x="81" y="285.6" width="1" height="3.4" fill="#fff"/>
<rect x="84" y="285.6" width="1" height="3.4" fill="#fff"/>
<rect x="88" y="285.6" width="1" height="3.4" fill="#fff"/>
<rect x="91" y="285.6" width="1" height="3.4" fill="#fff"/>
<rect x="94" y="285.6" width="1" height="3.4" fill="#fff"/>
<rect x="97" y="285.6" width="1" height="3.4" fill="#fff"/>
<rect x="103.3" y="293" width="3.1" height="1" fill="#fff"/>
<rect x="103.3" y="296" width="3.1" height="1" fill="#fff"/>
<rect x="116.7" y="291" width="2.3" height="1" fill="#fff"/>
<rect x="116.7" y="293.6" width="2.3" height="1" fill="#fff"/>
<rect x="116.7" y="296" width="2.3" height="1" fill="#fff"/>
<rect x="172.8" y="290.5" width="3.6" height="1" fill="#fff"/>
<rect x="172.8" y="293" width="3.6" height="1" fill="#fff"/>
<rect x="172.8" y="295.6" width="3.6" height="1" fill="#fff"/>
<rect x="172.8" y="307" width="3.6" height="1" fill="#fff"/>
<rect x="172.8" y="309.6" width="3.6" height="1" fill="#fff"/>
<rect x="172.8" y="312" width="3.6" height="1" fill="#fff"/>
<rect x="162.5" y="283.2" width="1" height="3.3" fill="#fff"/>
<rect x="165.6" y="283.2" width="1" height="3.3" fill="#fff"/>
<rect x="168.8" y="283.2" width="1" height="3.3" fill="#fff"/>
<rect x="121" y="322.9" width="1" height="3.3" fill="#fff"/>
<rect x="124" y="322.9" width="1" height="3.3" fill="#fff"/>
<rect x="127" y="322.9" width="1" height="3.3" fill="#fff"/>
<rect x="100" y="297.6" width="20" height="19.6" fill="#000" class="a"/>
<rect x="86.4" y="300.3" width="57" height="15.3" rx="2.5" fill="#000" class="a"/>
<rect x="87.4" y="301.3" width="54.8" height="13.1" rx="1.8" fill="#fff" class="a"/>
<text transform="translate(90.16 310.9) scale(0.72 1)" font-size="12.6" x="0 13.02 26.05 39.76 52.79 60.91">BANK 0</text>
<polyline points="54,328 56.3,332.4 107.6,332.4 111.7,337.6 116,332.4 167,332.4 169.6,327" fill="none" stroke="#000" stroke-width="1.1"/>
<rect x="87.4" y="338.6" width="50.6" height="17.4" rx="3.2" fill="#000" class="a"/>
<rect x="89.3" y="340.5" width="45.6" height="13.2" rx="1.4" fill="#fff" class="a"/>
<text transform="translate(89.47 352) scale(0.72 1)" font-size="14.3" x="0 13.22 25.65 38.87 52.08">CACHE</text>
<rect x="60" y="27.8" width="7" height="30.4" fill="#000" class="a"/>
<rect x="60" y="60.2" width="7" height="88" fill="#000" class="a"/>
<rect x="60" y="149.6" width="7" height="14" fill="#000" class="a"/>
<rect x="60" y="165" width="7" height="15.4" fill="#000" class="a"/>
<rect x="61" y="29" width="1" height="29" fill="#fff"/>
<rect x="61" y="34" width="5" height="1" fill="#fff"/>
<rect x="61" y="40" width="5" height="1" fill="#fff"/>
<rect x="61" y="46" width="5" height="1" fill="#fff"/>
<rect x="61" y="52" width="5" height="1" fill="#fff"/>
<rect x="61" y="57" width="5" height="1" fill="#fff"/>
<rect x="61" y="61" width="5" height="1" fill="#fff"/>
<rect x="61" y="61" width="1" height="24" fill="#fff"/>
<rect x="61" y="67" width="5" height="1" fill="#fff"/>
<rect x="61" y="73" width="5" height="1" fill="#fff"/>
<rect x="61" y="79" width="5" height="1" fill="#fff"/>
<rect x="61" y="84" width="5" height="1" fill="#fff"/>
<rect x="61" y="87" width="5" height="2" fill="#fff" class="a"/>
<rect x="61" y="94" width="5" height="1" fill="#fff"/>
<rect x="61" y="100" width="5" height="2" fill="#fff" class="a"/>
<rect x="61" y="104" width="5" height="2" fill="#fff" class="a"/>
<rect x="61" y="110" width="5" height="1" fill="#fff"/>
<rect x="61" y="114" width="5" height="2" fill="#fff" class="a"/>
<rect x="61" y="118" width="5" height="2" fill="#fff" class="a"/>
<rect x="61" y="126" width="5" height="1" fill="#fff"/>
<rect x="61" y="131" width="5" height="2" fill="#fff" class="a"/>
<rect x="61" y="136" width="5" height="2" fill="#fff" class="a"/>
<rect x="61" y="142" width="5" height="1" fill="#fff"/>
<rect x="61" y="151" width="5" height="2" fill="#fff" class="a"/>
<rect x="61" y="157" width="5" height="2" fill="#fff" class="a"/>
<rect x="61" y="167" width="5" height="2" fill="#fff" class="a"/>
<rect x="61" y="173" width="5" height="2" fill="#fff" class="a"/>
<rect x="72" y="26" width="20" height="81" fill="#000" />
<rect x="73" y="27" width="18" height="79" fill="#fff" />
<rect x="77" y="30" width="10" height="6" fill="#000" />
<rect x="77" y="37" width="10" height="6" fill="#000" />
<rect x="77" y="45" width="10" height="6" fill="#000" />
<rect x="77" y="52" width="10" height="6" fill="#000" />
<rect x="77" y="59" width="10" height="6" fill="#000" />
<rect x="77" y="67" width="10" height="6" fill="#000" />
<rect x="77" y="74" width="10" height="6" fill="#000" />
<rect x="77" y="81" width="10" height="6" fill="#000" />
<rect x="77" y="89" width="10" height="6" fill="#000" />
<rect x="78" y="96" width="9" height="5" fill="#000" />
<rect x="79" y="97" width="7" height="3" fill="#fff" />
<circle cx="76.4" cy="104" r="2.1" fill="#fff" stroke="#000" stroke-width="1"/>
<polygon points="44.4,39.9 47.4,41.2 53.43,42.2 60,42.9 60,44.5 53.43,45.4 47.4,46.8 44.4,47.9" fill="#000"/>
<rect x="4.2" y="35" width="41.2" height="18" rx="3.2" fill="#000" class="a"/>
<rect x="6.1" y="36.9" width="36.2" height="13.8" rx="1.4" fill="#fff" class="a"/>
<polygon points="41.9,42.1 47,42.9 50.95,43.7 47,44.5 41.9,45.2" fill="#fff"/>
<text transform="translate(7.04 49) scale(0.72 1)" font-size="14.3" x="0 9.96 20.73 31.5 38.28">J13/H</text>
<polygon points="44.4,68.9 47.4,70.2 53.43,71.2 60,71.9 60,73.5 53.43,74.4 47.4,75.8 44.4,76.9" fill="#000"/>
<rect x="4.2" y="64.2" width="41.2" height="17.7" rx="3.2" fill="#000" class="a"/>
<rect x="6.1" y="66.1" width="36.2" height="13.5" rx="1.4" fill="#fff" class="a"/>
<polygon points="41.9,71.1 47,71.9 50.95,72.7 47,73.5 41.9,74.2" fill="#fff"/>
<text transform="translate(6.74 77.9) scale(0.72 1)" font-size="14.3" x="0 9.67 20.15 30.63 37.12">J13/G</text>
<polygon points="44.4,90.1 47.4,91.4 53.43,92.3 60,93 60,94.6 53.43,95.5 47.4,97 44.4,98.1" fill="#000"/>
<rect x="4.2" y="85.5" width="41.2" height="17.3" rx="3.2" fill="#000" class="a"/>
<rect x="6.1" y="87.4" width="36.2" height="13.1" rx="1.4" fill="#fff" class="a"/>
<polygon points="41.9,92.3 47,93.1 50.95,93.8 47,94.7 41.9,95.4" fill="#fff"/>
<text transform="translate(7.04 98.4) scale(0.72 1)" font-size="14.3" x="0 9.59 19.98 30.38 36.79">J13/F</text>
<polygon points="44.2,139.1 47.2,140.4 53.34,141.1 60,141.8 60,143.4 53.34,144.3 47.2,146 44.2,147.1" fill="#000"/>
<rect x="3.6" y="135.2" width="41.6" height="17.6" rx="3.2" fill="#000" class="a"/>
<rect x="5.5" y="137.1" width="36.6" height="13.4" rx="1.4" fill="#fff" class="a"/>
<polygon points="41.7,141.3 46.8,142.1 50.82,142.6 46.8,143.7 41.7,144.4" fill="#fff"/>
<text transform="translate(6.14 148.8) scale(0.72 1)" font-size="14.3" x="0 9.53 19.87 30.2 36.56">J13/C</text>
<polygon points="44,117 49,117 55,125.2 60,126.6 60,128.6 53,127.6 46,124.6" fill="#000"/>
<rect x="9.4" y="107.6" width="40.4" height="17.7" rx="3.2" fill="#000" class="a"/>
<rect x="11.3" y="109.5" width="35.4" height="13.5" rx="1.4" fill="#fff" class="a"/>
<text transform="translate(11.64 120.5) scale(0.72 1)" font-size="14.3" x="0 9.5 19.8 30.1 36.42">J13/D</text>
<polygon points="45.5,119 47.8,119 52.6,125.3 47,123.3" fill="#fff"/>
<polygon points="45,166 52.5,160.5 57.6,155.3 59,156.3 55.5,162 52.5,168 50,168" fill="#000"/>
<rect x="10.4" y="164.4" width="41.4" height="18" rx="3.2" fill="#000" class="a"/>
<rect x="12.3" y="166.3" width="36.4" height="13.8" rx="1.4" fill="#fff" class="a"/>
<text transform="translate(12.14 177.6) scale(0.72 1)" font-size="14.3" x="0 9.89 20.58 31.27 37.98">J13/B</text>
<polygon points="46.5,167 52.7,162 51.5,164.5 49,168" fill="#fff"/>
<polygon points="50,191.5 56,186 62,180.5 63.4,181.5 59.5,188 56,194 53,194" fill="#000"/>
<rect x="14.5" y="190" width="40.6" height="17.8" rx="3.2" fill="#000" class="a"/>
<rect x="16.4" y="191.9" width="35.6" height="13.6" rx="1.4" fill="#fff" class="a"/>
<text transform="translate(16.84 203.2) scale(0.72 1)" font-size="14.3" x="0 9.95 20.7 31.45 38.22">J13/A</text>
<polygon points="51.5,192.3 57,187 55.5,190.5 53,194" fill="#fff"/>
<polygon points="66.8,108.6 67.6,107.2 72.6,112 78,116.2 82,117 82,120 75.2,121 73.5,116.5 70.2,113.2" fill="#000"/>
<rect x="74.4" y="118" width="41" height="16.7" fill="#000" class="a"/>
<rect x="76.6" y="119.2" width="37.3" height="13.9" fill="#fff" class="a"/>
<polygon points="74.6,116.4 76.8,118 77,119.4 75.8,118.6" fill="#fff"/>
<text transform="translate(77.94 130.9) scale(0.72 1)" font-size="14.3" x="0 9.71 20.23 30.74 37.28">J13/E</text>
<polygon points="108,61.9 105,63.2 98.91,66 92.3,66.7 92.3,68.3 98.91,69.2 105,70.1 108,71.2" fill="#000"/>
<rect x="107" y="58.4" width="67.6" height="18.3" rx="3.2" fill="#000" class="a"/>
<rect x="108.9" y="60.3" width="62.6" height="14.1" rx="1.4" fill="#fff" class="a"/>
<polygon points="110,64.1 105.4,64.9 101.41,67.5 105.4,67.8 110,68.5" fill="#fff"/>
<text transform="translate(110.63 72) scale(0.72 1)" font-size="14.3" x="0 12.18 28.31 38.9 45.51 56.1 63.5 74.1">SW1/1-10</text>
<rect x="274.9" y="50" width="21.5" height="9.6" fill="#000" class="a"/>
<rect x="276" y="51.1" width="19.3" height="7.4" fill="#fff" class="a"/>
<rect x="277.3" y="51.9" width="4.52" height="5.8" fill="#000" class="a"/>
<rect x="283.52" y="51.9" width="4.52" height="5.8" fill="#000" class="a"/>
<rect x="289.73" y="51.9" width="4.52" height="5.8" fill="#000" class="a"/>
<rect x="290.83" y="53.9" width="2.32" height="1.8" fill="#fff" class="a"/>
<polygon points="260.2,50.6 263.2,51.9 269.06,53.5 275.5,54.2 275.5,55.8 269.06,56.7 263.2,57.5 260.2,58.6" fill="#000"/>
<rect x="235.3" y="46" width="25.9" height="17.6" rx="3.2" fill="#000" class="a"/>
<rect x="237.2" y="47.9" width="20.9" height="13.4" rx="1.4" fill="#fff" class="a"/>
<polygon points="257.7,52.8 262.8,53.6 266.63,55 262.8,55.2 257.7,55.9" fill="#fff"/>
<text transform="translate(240.84 60) scale(0.72 1)" font-size="14.3" x="0 9.83">J8</text>
<rect x="484.9" y="219" width="20" height="7.6" fill="#000" class="a"/>
<rect x="486" y="220.1" width="17.8" height="5.4" fill="#fff" class="a"/>
<rect x="487.3" y="220.9" width="4.02" height="3.8" fill="#000" class="a"/>
<rect x="493.02" y="220.9" width="4.02" height="3.8" fill="#000" class="a"/>
<rect x="498.73" y="220.9" width="4.02" height="3.8" fill="#000" class="a"/>
<rect x="499.83" y="221.9" width="1.82" height="1.8" fill="#fff" class="a"/>
<polygon points="469.2,217.9 472.2,219.2 478.62,221.3 485.5,222 485.5,223.6 478.62,224.5 472.2,224.8 469.2,225.9" fill="#000"/>
<rect x="433.4" y="213.1" width="36.8" height="18.4" rx="3.2" fill="#000" class="a"/>
<rect x="435.3" y="215" width="31.8" height="14.2" rx="1.4" fill="#fff" class="a"/>
<polygon points="466.7,220.1 471.8,220.9 476.01,222.8 471.8,222.5 466.7,223.2" fill="#fff"/>
<text transform="translate(438.84 227.1) scale(0.72 1)" font-size="14.3" x="0 10.44 23.27">JP2</text>
<rect x="90.5" y="269.7" width="19.7" height="7.3" fill="#000" class="a"/>
<rect x="91.6" y="270.8" width="17.5" height="5.1" fill="#fff" class="a"/>
<rect x="92.9" y="271.6" width="3.92" height="3.5" fill="#000" class="a"/>
<rect x="98.52" y="271.6" width="3.92" height="3.5" fill="#000" class="a"/>
<rect x="104.13" y="271.6" width="3.92" height="3.5" fill="#000" class="a"/>
<rect x="105.23" y="272.45" width="1.72" height="1.8" fill="#fff" class="a"/>
<polygon points="75.4,269.9 78.4,271.2 84.43,272.1 91,272.8 91,274.4 84.43,275.3 78.4,276.8 75.4,277.9" fill="#000"/>
<rect x="40.4" y="265.3" width="36" height="17" rx="3.2" fill="#000" class="a"/>
<rect x="42.3" y="267.2" width="31" height="12.8" rx="1.4" fill="#fff" class="a"/>
<polygon points="72.9,272.1 78,272.9 81.95,273.6 78,274.5 72.9,275.2" fill="#fff"/>
<text transform="translate(46.84 278) scale(0.72 1)" font-size="14.3" x="0 10.38 23.15">JP5</text>
<rect x="513" y="321.2" width="21" height="8.6" fill="#000" class="a"/>
<rect x="514.1" y="322.3" width="18.8" height="6.4" fill="#fff" class="a"/>
<rect x="515.4" y="323.1" width="4.35" height="4.8" fill="#000" class="a"/>
<rect x="521.45" y="323.1" width="4.35" height="4.8" fill="#000" class="a"/>
<rect x="527.5" y="323.1" width="4.35" height="4.8" fill="#000" class="a"/>
<rect x="528.6" y="324.6" width="2.15" height="1.8" fill="#fff" class="a"/>
<polygon points="498.4,321 501.4,322.3 507.15,323.9 513.5,324.6 513.5,326.2 507.15,327.1 501.4,327.9 498.4,329" fill="#000"/>
<rect x="473.1" y="316" width="26.3" height="18.5" rx="3.2" fill="#000" class="a"/>
<rect x="475" y="317.9" width="21.3" height="14.3" rx="1.4" fill="#fff" class="a"/>
<polygon points="495.9,323.2 501,324 504.76,325.4 501,325.6 495.9,326.3" fill="#fff"/>
<text transform="translate(479.04 329.9) scale(0.72 1)" font-size="14.3" x="0 8.96">J7</text>
<polygon points="613.4,77.7 614.7,80.7 615.8,87.67 616.5,95 618.2,95 619.1,87.67 620.2,80.7 621.2,77.7" fill="#000"/>
<rect x="604" y="60" width="26.1" height="18.7" rx="3.2" fill="#000" class="a"/>
<rect x="605.9" y="61.9" width="21.1" height="14.5" rx="1.4" fill="#fff" class="a"/>
<polygon points="615.6,75.7 616.4,80.3 617.3,84.89 617.8,80.3 618.5,75.7" fill="#fff"/>
<text transform="translate(609.74 74) scale(0.72 1)" font-size="14.3" x="0 9.71">J3</text>
<polygon points="613.4,127.1 614.7,124.1 615.8,117.13 616.5,109.8 618.2,109.8 619.1,117.13 620.2,124.1 621.2,127.1" fill="#000"/>
<rect x="604.2" y="126.1" width="25.8" height="17.5" rx="3.2" fill="#000" class="a"/>
<rect x="606.1" y="128" width="20.8" height="13.3" rx="1.4" fill="#fff" class="a"/>
<polygon points="615.6,129.1 616.4,124.5 617.3,119.91 617.8,124.5 618.5,129.1" fill="#fff"/>
<text transform="translate(609.94 139.9) scale(0.72 1)" font-size="14.3" x="0 9.8">J2</text>
<rect x="601.8" y="95" width="30.3" height="6.8" fill="#000" class="a"/>
<rect x="601.8" y="103" width="30.3" height="6.9" fill="#000" class="a"/>
<rect x="602.9" y="96.3" width="6.2" height="4.2" fill="#fff" class="a"/>
<rect x="612.8" y="96.3" width="2.3" height="4.2" fill="#fff" class="a"/>
<rect x="618.8" y="96.3" width="2.3" height="4.2" fill="#fff" class="a"/>
<rect x="624.8" y="96.3" width="6.3" height="4.2" fill="#fff" class="a"/>
<rect x="627" y="97.2" width="3" height="2.8" fill="#000" class="a"/>
<rect x="608" y="104.3" width="1.1" height="4.3" fill="#fff"/>
<rect x="612.8" y="104.3" width="2.1" height="4.3" fill="#fff" class="a"/>
<rect x="618.8" y="104.3" width="2.3" height="4.3" fill="#fff" class="a"/>
<rect x="624.8" y="104.3" width="6.3" height="4.3" fill="#fff" class="a"/>
<rect x="627" y="105.2" width="3" height="2.8" fill="#000" class="a"/>
<rect x="566.1" y="222" width="36.9" height="6.9" fill="#000" class="a"/>
<rect x="567.1" y="223.1" width="0.85" height="4.5" fill="#fff" class="a"/>
<rect x="572.78" y="223.1" width="0.85" height="4.5" fill="#fff" class="a"/>
<rect x="578.47" y="223.1" width="0.85" height="4.5" fill="#fff" class="a"/>
<rect x="584.15" y="223.1" width="0.85" height="4.5" fill="#fff" class="a"/>
<rect x="589.83" y="223.1" width="0.85" height="4.5" fill="#fff" class="a"/>
<rect x="595.52" y="223.1" width="0.85" height="4.5" fill="#fff" class="a"/>
<rect x="601.2" y="223.1" width="0.85" height="4.5" fill="#fff" class="a"/>
<rect x="567.1" y="226.7" width="34.95" height="0.9" fill="#fff" class="a"/>
<rect x="597.12" y="223.9" width="3.08" height="1.9" fill="#fff" class="a"/>
<rect x="583" y="214.1" width="18.9" height="6.7" fill="#000" class="a"/>
<rect x="588.9" y="214.8" width="1" height="5.2" fill="#fff" class="a"/>
<rect x="595" y="214.8" width="1" height="5.2" fill="#fff" class="a"/>
<rect x="596.8" y="215.9" width="3.3" height="3" fill="#fff" class="a"/>
<polygon points="550,220.6 553,221.9 559.41,223.7 566.3,224.4 566.3,226 559.41,226.9 553,227.5 550,228.6" fill="#000"/>
<rect x="525.2" y="215.5" width="25.8" height="17.8" rx="3.2" fill="#000" class="a"/>
<rect x="527.1" y="217.4" width="20.8" height="13.6" rx="1.4" fill="#fff" class="a"/>
<polygon points="547.5,222.8 552.6,223.6 556.81,225.2 552.6,225.2 547.5,225.9" fill="#fff"/>
<text transform="translate(528.87 229.1) scale(0.72 1)" font-size="14.3" x="0 12.97">6J</text>
<polygon points="617.1,213.4 614.1,214.7 607.96,215.8 601.3,216.5 601.3,218.1 607.96,219 614.1,220.3 617.1,221.4" fill="#000"/>
<rect x="616.1" y="208.6" width="36.6" height="18" rx="3.2" fill="#000" class="a"/>
<rect x="618" y="210.5" width="31.6" height="13.8" rx="1.4" fill="#fff" class="a"/>
<polygon points="619.1,215.6 614.5,216.4 610.48,217.3 614.5,218 619.1,218.7" fill="#fff"/>
<text transform="translate(623.22 222.4) scale(0.72 1)" font-size="14.3" x="0 11.29 24.16">1PJ</text>
<rect x="473" y="396" width="89" height="15" fill="#000" />
<rect x="474" y="397" width="87" height="13" fill="#fff" />
<rect x="474.8" y="398" width="4.7" height="4.7" fill="#000" class="a"/>
<rect x="474.8" y="405" width="4.7" height="3.8" fill="#000" class="a"/>
<rect x="481.49" y="398" width="4.7" height="4.7" fill="#000" class="a"/>
<rect x="481.49" y="405" width="4.7" height="3.8" fill="#000" class="a"/>
<rect x="488.18" y="398" width="4.7" height="4.7" fill="#000" class="a"/>
<rect x="488.18" y="405" width="4.7" height="3.8" fill="#000" class="a"/>
<rect x="494.87" y="398" width="4.7" height="4.7" fill="#000" class="a"/>
<rect x="494.87" y="405" width="4.7" height="3.8" fill="#000" class="a"/>
<rect x="501.56" y="398" width="4.7" height="4.7" fill="#000" class="a"/>
<rect x="501.56" y="405" width="4.7" height="3.8" fill="#000" class="a"/>
<rect x="508.25" y="398" width="4.7" height="4.7" fill="#000" class="a"/>
<rect x="508.25" y="405" width="4.7" height="3.8" fill="#000" class="a"/>
<rect x="514.94" y="398" width="4.7" height="4.7" fill="#000" class="a"/>
<rect x="514.94" y="405" width="4.7" height="3.8" fill="#000" class="a"/>
<rect x="521.63" y="398" width="4.7" height="4.7" fill="#000" class="a"/>
<rect x="521.63" y="405" width="4.7" height="3.8" fill="#000" class="a"/>
<rect x="528.32" y="398" width="4.7" height="4.7" fill="#000" class="a"/>
<rect x="528.32" y="405" width="4.7" height="3.8" fill="#000" class="a"/>
<rect x="535.01" y="398" width="4.7" height="4.7" fill="#000" class="a"/>
<rect x="535.01" y="405" width="4.7" height="3.8" fill="#000" class="a"/>
<rect x="541.7" y="398" width="4.7" height="4.7" fill="#000" class="a"/>
<rect x="541.7" y="405" width="4.7" height="3.8" fill="#000" class="a"/>
<rect x="548.39" y="398" width="4.7" height="4.7" fill="#000" class="a"/>
<rect x="548.39" y="405" width="4.7" height="3.8" fill="#000" class="a"/>
<rect x="555.08" y="398" width="4.7" height="4.7" fill="#000" class="a"/>
<rect x="555.08" y="405" width="4.7" height="3.8" fill="#000" class="a"/>
<rect x="556.4" y="399.2" width="2.4" height="2.4" fill="#fff" class="a"/>
<polygon points="510.3,380.7 511.6,383.7 512.3,389.84 513,396.5 514.7,396.5 515.6,389.84 517.1,383.7 518.1,380.7" fill="#000"/>
<rect x="500.1" y="362.9" width="25.7" height="18.8" rx="3.2" fill="#000" class="a"/>
<rect x="502" y="364.8" width="20.7" height="14.6" rx="1.4" fill="#fff" class="a"/>
<polygon points="512.5,378.7 513.3,383.3 513.8,387.32 514.7,383.3 515.4,378.7" fill="#fff"/>
<text transform="translate(504.84 376.8) scale(0.72 1)" font-size="14.3" x="0 10.03">J9</text>
<rect x="566" y="396" width="60" height="13" fill="#000" />
<rect x="567" y="397" width="58" height="11" fill="#fff" />
<rect x="568.1" y="397.2" width="3.95" height="9.4" fill="#000" class="a"/>
<rect x="574.07" y="397.2" width="3.95" height="9.4" fill="#000" class="a"/>
<rect x="580.04" y="397.2" width="3.95" height="9.4" fill="#000" class="a"/>
<rect x="586.01" y="397.2" width="3.95" height="9.4" fill="#000" class="a"/>
<rect x="591.98" y="397.2" width="3.95" height="9.4" fill="#000" class="a"/>
<rect x="597.95" y="397.2" width="3.95" height="9.4" fill="#000" class="a"/>
<rect x="603.92" y="397.2" width="3.95" height="9.4" fill="#000" class="a"/>
<rect x="609.89" y="397.2" width="3.95" height="9.4" fill="#000" class="a"/>
<rect x="615.86" y="397.2" width="3.95" height="9.4" fill="#000" class="a"/>
<rect x="621.83" y="397.2" width="3.95" height="9.4" fill="#000" class="a"/>
<rect x="622.83" y="398" width="2" height="3.2" fill="#fff" class="a"/>
<rect x="566" y="412" width="60" height="13" fill="#000" />
<rect x="567" y="413" width="58" height="11" fill="#fff" />
<rect x="568.1" y="413.1" width="3.95" height="9.7" fill="#000" class="a"/>
<rect x="574.07" y="413.1" width="3.95" height="9.7" fill="#000" class="a"/>
<rect x="580.04" y="413.1" width="3.95" height="9.7" fill="#000" class="a"/>
<rect x="586.01" y="413.1" width="3.95" height="9.7" fill="#000" class="a"/>
<rect x="591.98" y="413.1" width="3.95" height="9.7" fill="#000" class="a"/>
<rect x="597.95" y="413.1" width="3.95" height="9.7" fill="#000" class="a"/>
<rect x="603.92" y="413.1" width="3.95" height="9.7" fill="#000" class="a"/>
<rect x="609.89" y="413.1" width="3.95" height="9.7" fill="#000" class="a"/>
<rect x="615.86" y="413.1" width="3.95" height="9.7" fill="#000" class="a"/>
<rect x="621.83" y="413.1" width="3.95" height="9.7" fill="#000" class="a"/>
<rect x="622.83" y="413.9" width="2" height="3.2" fill="#fff" class="a"/>
<rect x="599.9" y="445.9" width="36.1" height="6.9" fill="#000" class="a"/>
<rect x="600.9" y="447" width="0.85" height="4.5" fill="#fff" class="a"/>
<rect x="606.45" y="447" width="0.85" height="4.5" fill="#fff" class="a"/>
<rect x="612" y="447" width="0.85" height="4.5" fill="#fff" class="a"/>
<rect x="617.55" y="447" width="0.85" height="4.5" fill="#fff" class="a"/>
<rect x="623.1" y="447" width="0.85" height="4.5" fill="#fff" class="a"/>
<rect x="628.65" y="447" width="0.85" height="4.5" fill="#fff" class="a"/>
<rect x="634.2" y="447" width="0.85" height="4.5" fill="#fff" class="a"/>
<rect x="600.9" y="450.6" width="34.15" height="0.9" fill="#fff" class="a"/>
<rect x="630.25" y="447.8" width="2.95" height="1.9" fill="#fff" class="a"/>
<rect x="633.7" y="380.8" width="23.4" height="17" rx="3.2" fill="#000" class="a"/>
<rect x="635.6" y="382.7" width="18.4" height="12.8" rx="1.4" fill="#fff" class="a"/>
<text transform="translate(638.04 394.1) scale(0.72 1)" font-size="14.3" x="0 9.68">J5</text>
<polygon points="634,391 637,397 627,405.5 625.5,404" fill="#000"/>
<polygon points="635.3,394.5 636.5,396.6 632,400" fill="#fff"/>
<polygon points="642.5,412.6 639.5,413.9 633.14,414.7 626.3,415.4 626.3,417 633.14,417.9 639.5,419.5 642.5,420.6" fill="#000"/>
<rect x="641.5" y="407.6" width="24.8" height="17.6" rx="3.2" fill="#000" class="a"/>
<rect x="643.4" y="409.5" width="19.8" height="13.4" rx="1.4" fill="#fff" class="a"/>
<polygon points="644.5,414.8 639.9,415.6 635.72,416.2 639.9,417.2 644.5,417.9" fill="#fff"/>
<text transform="translate(647.24 421.3) scale(0.72 1)" font-size="14.3" x="0 9.77">J4</text>
<rect x="588.8" y="459.5" width="23.4" height="17.6" rx="3.2" fill="#000" class="a"/>
<rect x="590.7" y="461.4" width="18.4" height="13.4" rx="1.4" fill="#fff" class="a"/>
<text transform="translate(592.54 472.6) scale(0.72 1)" font-size="14.3" x="0 9.23">J1</text>
<polygon points="604,461 610,458.5 618,452.8 620,453.2 616,458 612.8,462.5 612,466" fill="#000"/>
<polygon points="606.5,461.6 610.8,459.8 614.5,457 611.3,461.5 610.6,463.5" fill="#fff"/>
<rect x="357.9" y="397" width="112.7" height="14" fill="#000" class="a"/>
<rect x="359" y="398.2" width="1.3" height="11.6" fill="#fff" class="a"/>
<rect x="366" y="398.2" width="1.3" height="11.6" fill="#fff" class="a"/>
<rect x="372" y="398.2" width="1.3" height="11.6" fill="#fff" class="a"/>
<rect x="379" y="398.2" width="1.3" height="11.6" fill="#fff" class="a"/>
<rect x="385" y="398.2" width="1.3" height="11.6" fill="#fff" class="a"/>
<rect x="392" y="398.2" width="1.3" height="11.6" fill="#fff" class="a"/>
<rect x="398" y="398.2" width="1.3" height="11.6" fill="#fff" class="a"/>
<rect x="405" y="398.2" width="1.3" height="11.6" fill="#fff" class="a"/>
<rect x="412" y="398.2" width="1.3" height="11.6" fill="#fff" class="a"/>
<rect x="418" y="398.2" width="1.3" height="11.6" fill="#fff" class="a"/>
<rect x="425" y="398.2" width="1.3" height="11.6" fill="#fff" class="a"/>
<rect x="431" y="398.2" width="1.3" height="11.6" fill="#fff" class="a"/>
<rect x="438" y="398.2" width="1.3" height="11.6" fill="#fff" class="a"/>
<rect x="444" y="398.2" width="1.3" height="11.6" fill="#fff" class="a"/>
<rect x="451" y="398.2" width="1.3" height="11.6" fill="#fff" class="a"/>
<rect x="458" y="398.2" width="1.3" height="11.6" fill="#fff" class="a"/>
<rect x="464" y="398.2" width="1.3" height="11.6" fill="#fff" class="a"/>
<rect x="392" y="403.2" width="54" height="1" fill="#fff"/>
<rect x="410.5" y="404" width="1" height="5.2" fill="#fff"/>
<rect x="417" y="404" width="1" height="5.2" fill="#fff"/>
<rect x="410.5" y="408.3" width="7.5" height="0.9" fill="#fff"/>
<rect x="463.3" y="399" width="5.3" height="10.6" fill="#fff" class="a"/>
<rect x="464.6" y="400" width="2.8" height="8.6" fill="#000" class="a"/>
<rect x="465.3" y="400.8" width="1.4" height="2.4" fill="#fff"/>
<polygon points="341,399.4 344,400.7 350.8,401.9 358,402.6 358,404.2 350.8,405.1 344,406.3 341,407.4" fill="#000"/>
<rect x="305.5" y="394.3" width="36.5" height="17.7" rx="3.2" fill="#000" class="a"/>
<rect x="307.4" y="396.2" width="31.5" height="13.5" rx="1.4" fill="#fff" class="a"/>
<polygon points="338.5,401.6 343.6,402.4 348.08,403.4 343.6,404 338.5,404.7" fill="#fff"/>
<text transform="translate(311.74 407.9) scale(0.72 1)" font-size="14.3" x="0 10.39 21.59">J11</text>
<rect x="260" y="415" width="119" height="13" fill="#000" />
<rect x="261" y="416" width="1" height="11" fill="#fff" />
<rect x="267" y="416" width="1" height="11" fill="#fff" />
<rect x="273" y="416" width="1" height="11" fill="#fff" />
<rect x="278" y="416" width="1" height="11" fill="#fff" />
<rect x="284" y="416" width="1" height="11" fill="#fff" />
<rect x="290" y="416" width="1" height="11" fill="#fff" />
<rect x="296" y="416" width="1" height="11" fill="#fff" />
<rect x="302" y="416" width="1" height="11" fill="#fff" />
<rect x="308" y="416" width="1" height="11" fill="#fff" />
<rect x="313" y="416" width="1" height="11" fill="#fff" />
<rect x="319" y="416" width="1" height="11" fill="#fff" />
<rect x="325" y="416" width="1" height="11" fill="#fff" />
<rect x="331" y="416" width="1" height="11" fill="#fff" />
<rect x="336" y="416" width="1" height="11" fill="#fff" />
<rect x="342" y="416" width="1" height="11" fill="#fff" />
<rect x="348" y="416" width="1" height="11" fill="#fff" />
<rect x="354" y="416" width="1" height="11" fill="#fff" />
<rect x="360" y="416" width="1" height="11" fill="#fff" />
<rect x="366" y="416" width="1" height="11" fill="#fff" />
<rect x="371" y="416" width="1" height="11" fill="#fff" />
<rect x="377" y="416" width="1" height="11" fill="#fff" />
<rect x="261" y="421" width="117" height="1" fill="#fff" />
<rect x="261" y="426" width="117" height="1" fill="#fff" />
<rect x="373" y="417" width="3" height="3" fill="#fff" />
<rect x="381" y="415" width="119" height="13" fill="#000" />
<rect x="382" y="416" width="1" height="11" fill="#fff" />
<rect x="388" y="416" width="1" height="11" fill="#fff" />
<rect x="394" y="416" width="1" height="11" fill="#fff" />
<rect x="400" y="416" width="1" height="11" fill="#fff" />
<rect x="405" y="416" width="1" height="11" fill="#fff" />
<rect x="411" y="416" width="1" height="11" fill="#fff" />
<rect x="417" y="416" width="1" height="11" fill="#fff" />
<rect x="423" y="416" width="1" height="11" fill="#fff" />
<rect x="428" y="416" width="1" height="11" fill="#fff" />
<rect x="434" y="416" width="1" height="11" fill="#fff" />
<rect x="440" y="416" width="1" height="11" fill="#fff" />
<rect x="446" y="416" width="1" height="11" fill="#fff" />
<rect x="452" y="416" width="1" height="11" fill="#fff" />
<rect x="458" y="416" width="1" height="11" fill="#fff" />
<rect x="463" y="416" width="1" height="11" fill="#fff" />
<rect x="469" y="416" width="1" height="11" fill="#fff" />
<rect x="475" y="416" width="1" height="11" fill="#fff" />
<rect x="481" y="416" width="1" height="11" fill="#fff" />
<rect x="486" y="416" width="1" height="11" fill="#fff" />
<rect x="492" y="416" width="1" height="11" fill="#fff" />
<rect x="498" y="416" width="1" height="11" fill="#fff" />
<rect x="382" y="421" width="117" height="1" fill="#fff" />
<rect x="382" y="426" width="117" height="1" fill="#fff" />
<rect x="494" y="417" width="3" height="3" fill="#fff" />
<polygon points="244.4,417.1 247.4,418.4 253.59,419.5 260.3,420.2 260.3,421.8 253.59,422.7 247.4,424 244.4,425.1" fill="#000"/>
<rect x="209.3" y="412.2" width="36.1" height="17.4" rx="3.2" fill="#000" class="a"/>
<rect x="211.2" y="414.1" width="31.1" height="13.2" rx="1.4" fill="#fff" class="a"/>
<polygon points="241.9,419.3 247,420.1 251.06,421 247,421.7 241.9,422.4" fill="#fff"/>
<text transform="translate(217.74 425.8) scale(0.72 1)" font-size="14.3" x="0 9.63 20.07">J12</text>
<rect x="510" y="423" width="24" height="100" fill="#000" />
<rect x="511" y="424" width="22" height="98" fill="#fff" />
<rect x="513.3" y="427.5" width="6.8" height="5.1" fill="#000" class="a"/>
<rect x="514.6" y="428.8" width="4.2" height="2.6" fill="#fff" class="a"/>
<rect x="522.3" y="427.5" width="6.6" height="5.1" fill="#000" class="a"/>
<rect x="523.6" y="428.8" width="4" height="2.6" fill="#fff" class="a"/>
<rect x="513.3" y="437.1" width="6.8" height="5.1" fill="#000" class="a"/>
<rect x="514.6" y="438.4" width="4.2" height="2.6" fill="#fff" class="a"/>
<rect x="522.3" y="437.1" width="6.6" height="5.1" fill="#000" class="a"/>
<rect x="523.6" y="438.4" width="4" height="2.6" fill="#fff" class="a"/>
<rect x="513.3" y="446.7" width="6.8" height="5.1" fill="#000" class="a"/>
<rect x="514.6" y="448" width="4.2" height="2.6" fill="#fff" class="a"/>
<rect x="522.3" y="446.7" width="6.6" height="5.1" fill="#000" class="a"/>
<rect x="523.6" y="448" width="4" height="2.6" fill="#fff" class="a"/>
<rect x="513.3" y="456.3" width="6.8" height="5.1" fill="#000" class="a"/>
<rect x="514.6" y="457.6" width="4.2" height="2.6" fill="#fff" class="a"/>
<rect x="522.3" y="456.3" width="6.6" height="5.1" fill="#000" class="a"/>
<rect x="523.6" y="457.6" width="4" height="2.6" fill="#fff" class="a"/>
<rect x="513.3" y="465.9" width="6.8" height="5.1" fill="#000" class="a"/>
<rect x="514.6" y="467.2" width="4.2" height="2.6" fill="#fff" class="a"/>
<rect x="522.3" y="465.9" width="6.6" height="5.1" fill="#000" class="a"/>
<rect x="523.6" y="467.2" width="4" height="2.6" fill="#fff" class="a"/>
<rect x="513.3" y="475.5" width="6.8" height="5.1" fill="#000" class="a"/>
<rect x="514.6" y="476.8" width="4.2" height="2.6" fill="#fff" class="a"/>
<rect x="522.3" y="475.5" width="6.6" height="5.1" fill="#000" class="a"/>
<rect x="523.6" y="476.8" width="4" height="2.6" fill="#fff" class="a"/>
<rect x="513.3" y="485.1" width="6.8" height="5.1" fill="#000" class="a"/>
<rect x="514.6" y="486.4" width="4.2" height="2.6" fill="#fff" class="a"/>
<rect x="522.3" y="485.1" width="6.6" height="5.1" fill="#000" class="a"/>
<rect x="523.6" y="486.4" width="4" height="2.6" fill="#fff" class="a"/>
<rect x="513.3" y="494.7" width="6.8" height="5.1" fill="#000" class="a"/>
<rect x="514.6" y="496" width="4.2" height="2.6" fill="#fff" class="a"/>
<rect x="522.3" y="494.7" width="6.6" height="5.1" fill="#000" class="a"/>
<rect x="523.6" y="496" width="4" height="2.6" fill="#fff" class="a"/>
<rect x="513.3" y="504.3" width="6.8" height="5.1" fill="#000" class="a"/>
<rect x="514.6" y="505.6" width="4.2" height="2.6" fill="#fff" class="a"/>
<rect x="522.3" y="504.3" width="6.6" height="5.1" fill="#000" class="a"/>
<rect x="523.6" y="505.6" width="4" height="2.6" fill="#fff" class="a"/>
<rect x="513.3" y="513.9" width="6.8" height="5.1" fill="#000" class="a"/>
<rect x="514.6" y="515.2" width="4.2" height="2.6" fill="#fff" class="a"/>
<rect x="522.3" y="513.9" width="6.6" height="5.1" fill="#000" class="a"/>
<rect x="523.6" y="515.2" width="4" height="2.6" fill="#fff" class="a"/>
<rect x="537" y="416" width="25" height="112" fill="#000" />
<rect x="538" y="417" width="23" height="110" fill="#fff" />
<rect x="545.8" y="417" width="0.7" height="110" fill="#000"/>
<rect x="550.8" y="416" width="7.2" height="2.2" fill="#000" class="a"/>
<polygon points="552,415.5 555.7,415.5 555.2,417.6 554.6,418.4 553.85,417.2 553.1,418.4 552.5,417.6" fill="#fff"/>
<rect x="541" y="418.1" width="2.1" height="6.3" fill="#000" class="a"/>
<rect x="540.1" y="419.8" width="4.6" height="3.2" fill="#000" class="a"/>
<rect x="547.2" y="418.1" width="2.5" height="6.3" fill="#000" class="a"/>
<rect x="541" y="427.37" width="2.1" height="6.3" fill="#000" class="a"/>
<rect x="540.1" y="429.07" width="4.6" height="3.2" fill="#000" class="a"/>
<rect x="547.2" y="427.37" width="2.5" height="6.3" fill="#000" class="a"/>
<rect x="541" y="436.64" width="2.1" height="6.3" fill="#000" class="a"/>
<rect x="540.1" y="438.34" width="4.6" height="3.2" fill="#000" class="a"/>
<rect x="547.2" y="436.64" width="2.5" height="6.3" fill="#000" class="a"/>
<rect x="541" y="445.91" width="2.1" height="6.3" fill="#000" class="a"/>
<rect x="540.1" y="447.61" width="4.6" height="3.2" fill="#000" class="a"/>
<rect x="547.2" y="445.91" width="2.5" height="6.3" fill="#000" class="a"/>
<rect x="541" y="455.18" width="2.1" height="6.3" fill="#000" class="a"/>
<rect x="540.1" y="456.88" width="4.6" height="3.2" fill="#000" class="a"/>
<rect x="547.2" y="455.18" width="2.5" height="6.3" fill="#000" class="a"/>
<rect x="541" y="464.45" width="2.1" height="6.3" fill="#000" class="a"/>
<rect x="540.1" y="466.15" width="4.6" height="3.2" fill="#000" class="a"/>
<rect x="547.2" y="464.45" width="2.5" height="6.3" fill="#000" class="a"/>
<rect x="541" y="473.72" width="2.1" height="6.3" fill="#000" class="a"/>
<rect x="540.1" y="475.42" width="4.6" height="3.2" fill="#000" class="a"/>
<rect x="547.2" y="473.72" width="2.5" height="6.3" fill="#000" class="a"/>
<rect x="541" y="482.99" width="2.1" height="6.3" fill="#000" class="a"/>
<rect x="540.1" y="484.69" width="4.6" height="3.2" fill="#000" class="a"/>
<rect x="547.2" y="482.99" width="2.5" height="6.3" fill="#000" class="a"/>
<rect x="541" y="492.26" width="2.1" height="6.3" fill="#000" class="a"/>
<rect x="540.1" y="493.96" width="4.6" height="3.2" fill="#000" class="a"/>
<rect x="547.2" y="492.26" width="2.5" height="6.3" fill="#000" class="a"/>
<rect x="541" y="501.53" width="2.1" height="6.3" fill="#000" class="a"/>
<rect x="540.1" y="503.23" width="4.6" height="3.2" fill="#000" class="a"/>
<rect x="547.2" y="501.53" width="2.5" height="6.3" fill="#000" class="a"/>
<rect x="541" y="510.8" width="2.1" height="6.3" fill="#000" class="a"/>
<rect x="540.1" y="512.5" width="4.6" height="3.2" fill="#000" class="a"/>
<rect x="547.2" y="510.8" width="2.5" height="6.3" fill="#000" class="a"/>
<rect x="541" y="520.07" width="2.1" height="6.3" fill="#000" class="a"/>
<rect x="540.1" y="521.77" width="4.6" height="3.2" fill="#000" class="a"/>
<rect x="547.2" y="520.07" width="2.5" height="6.3" fill="#000" class="a"/>
<rect x="551.1" y="421" width="6.7" height="7.8" fill="#000" class="a"/>
<rect x="552.3" y="422.2" width="4.3" height="5.4" fill="#fff" class="a"/>
<rect x="551.1" y="432" width="6.7" height="6.6" fill="#000" class="a"/>
<rect x="552.3" y="433.2" width="4.3" height="4.2" fill="#fff" class="a"/>
<rect x="551.1" y="441.3" width="6.7" height="6.6" fill="#000" class="a"/>
<rect x="552.3" y="442.5" width="4.3" height="4.2" fill="#fff" class="a"/>
<rect x="551.1" y="450.6" width="6.7" height="6.6" fill="#000" class="a"/>
<rect x="552.3" y="451.8" width="4.3" height="4.2" fill="#fff" class="a"/>
<rect x="551.1" y="459.9" width="6.7" height="6.6" fill="#000" class="a"/>
<rect x="552.3" y="461.1" width="4.3" height="4.2" fill="#fff" class="a"/>
<rect x="551.1" y="469.2" width="6.7" height="6.6" fill="#000" class="a"/>
<rect x="552.3" y="470.4" width="4.3" height="4.2" fill="#fff" class="a"/>
<rect x="551.1" y="478.5" width="6.7" height="6.6" fill="#000" class="a"/>
<rect x="552.3" y="479.7" width="4.3" height="4.2" fill="#fff" class="a"/>
<rect x="551.1" y="487.8" width="6.7" height="6.6" fill="#000" class="a"/>
<rect x="552.3" y="489" width="4.3" height="4.2" fill="#fff" class="a"/>
<rect x="551.1" y="497.1" width="6.7" height="6.6" fill="#000" class="a"/>
<rect x="552.3" y="498.3" width="4.3" height="4.2" fill="#fff" class="a"/>
<rect x="551.1" y="506.4" width="6.7" height="6.6" fill="#000" class="a"/>
<rect x="552.3" y="507.6" width="4.3" height="4.2" fill="#fff" class="a"/>
<rect x="551.1" y="515.7" width="6.7" height="6.6" fill="#000" class="a"/>
<rect x="552.3" y="516.9" width="4.3" height="4.2" fill="#fff" class="a"/>
<polygon points="552,528 555.7,528 553.85,525.6" fill="#fff"/>
<polyline points="552,527.4 553.85,525.4 555.7,527.4" fill="none" stroke="#000" stroke-width="1"/>
<polygon points="499.5,437 505,435 497,431.5 491.5,427 490.3,428.2 494.5,434" fill="#000"/>
<rect x="498.1" y="434" width="34.5" height="18.6" rx="3.2" fill="#000" class="a"/>
<rect x="500" y="435.9" width="29.5" height="14.4" rx="1.4" fill="#fff" class="a"/>
<text transform="translate(504.84 448) scale(0.72 1)" font-size="14.3" x="0 10.04 20.89">J10</text>
<polygon points="500.5,437.5 503.5,436.3 497,433" fill="#fff"/>
<polygon points="527.5,536 533,531.5 528,528.5 521.6,524 520.3,525.2 523.5,530" fill="#000"/>
<rect x="526.9" y="530.7" width="35.1" height="18.6" rx="3.2" fill="#000" class="a"/>
<rect x="528.8" y="532.6" width="30.1" height="14.4" rx="1.4" fill="#fff" class="a"/>
<text transform="translate(532.48 544.7) scale(0.72 1)" font-size="14.3" x="0 11.77 22.74">ATX</text>
<polygon points="528.8,535 531.5,532.5 526.3,529" fill="#fff"/>
<polygon points="615,477.2 637,477.2 637,474 639.5,474 639.5,471 646,471 646,520.8 639.5,520.8 639.5,517.8 637,517.8 637,514.6 615,514.6 615,507.5 612.6,507.5 612.6,484 615,484" fill="#000"/>
<rect x="608" y="486" width="5" height="8" fill="#000" />
<rect x="609" y="487" width="3" height="6" fill="#fff" />
<rect x="608" y="498" width="5" height="8" fill="#000" />
<rect x="609" y="499" width="3" height="6" fill="#fff" />
<rect x="265" y="439" width="226" height="19" fill="#000" />
<rect x="266" y="440" width="224" height="17" fill="#fff" />
<rect x="265" y="443.3" width="8.5" height="1" fill="#000"/>
<rect x="265" y="450.3" width="8.5" height="1" fill="#000"/>
<rect x="273.7" y="440.3" width="3" height="16.9" fill="#000" class="a"/>
<rect x="276" y="441.3" width="204.5" height="0.9" fill="#000"/>
<rect x="285.4" y="455" width="195.1" height="0.9" fill="#000"/>
<polyline points="277.5,443.5 287.5,443.5 287.5,452.5 283.5,452.5 283.5,456.5 277.5,456.5" fill="none" stroke="#000" stroke-width="1.4"/>
<polyline points="283.5,451.5 279.5,451.5 279.5,454.5" fill="none" stroke="#000" stroke-width="1.4"/>
<rect x="291" y="442.1" width="59.4" height="13.4" fill="#000" class="a"/>
<rect x="294" y="443.2" width="4" height="5.6" fill="#fff" class="a"/>
<rect x="295.6" y="450.6" width="1.1" height="4.1" fill="#fff"/>
<rect x="299.88" y="443.2" width="4" height="5.6" fill="#fff" class="a"/>
<rect x="301.48" y="450.6" width="1.1" height="4.1" fill="#fff"/>
<rect x="305.76" y="443.2" width="4" height="5.6" fill="#fff" class="a"/>
<rect x="307.36" y="450.6" width="1.1" height="4.1" fill="#fff"/>
<rect x="311.64" y="443.2" width="4" height="5.6" fill="#fff" class="a"/>
<rect x="313.24" y="450.6" width="1.1" height="4.1" fill="#fff"/>
<rect x="317.52" y="443.2" width="4" height="5.6" fill="#fff" class="a"/>
<rect x="319.12" y="450.6" width="1.1" height="4.1" fill="#fff"/>
<rect x="323.4" y="443.2" width="4" height="5.6" fill="#fff" class="a"/>
<rect x="325" y="450.6" width="1.1" height="4.1" fill="#fff"/>
<rect x="329.28" y="443.2" width="4" height="5.6" fill="#fff" class="a"/>
<rect x="330.88" y="450.6" width="1.1" height="4.1" fill="#fff"/>
<rect x="335.16" y="443.2" width="4" height="5.6" fill="#fff" class="a"/>
<rect x="336.76" y="450.6" width="1.1" height="4.1" fill="#fff"/>
<rect x="341.04" y="443.2" width="4" height="5.6" fill="#fff" class="a"/>
<rect x="342.64" y="450.6" width="1.1" height="4.1" fill="#fff"/>
<rect x="346.92" y="443.2" width="4" height="5.6" fill="#fff" class="a"/>
<rect x="348.52" y="450.6" width="1.1" height="4.1" fill="#fff"/>
<rect x="408.2" y="442.1" width="57.5" height="13.4" fill="#000" class="a"/>
<rect x="411.9" y="443.2" width="4" height="5.6" fill="#fff" class="a"/>
<rect x="413.5" y="450.6" width="1.1" height="4.1" fill="#fff"/>
<rect x="417.78" y="443.2" width="4" height="5.6" fill="#fff" class="a"/>
<rect x="419.38" y="450.6" width="1.1" height="4.1" fill="#fff"/>
<rect x="423.66" y="443.2" width="4" height="5.6" fill="#fff" class="a"/>
<rect x="425.26" y="450.6" width="1.1" height="4.1" fill="#fff"/>
<rect x="429.54" y="443.2" width="4" height="5.6" fill="#fff" class="a"/>
<rect x="431.14" y="450.6" width="1.1" height="4.1" fill="#fff"/>
<rect x="435.42" y="443.2" width="4" height="5.6" fill="#fff" class="a"/>
<rect x="437.02" y="450.6" width="1.1" height="4.1" fill="#fff"/>
<rect x="441.3" y="443.2" width="4" height="5.6" fill="#fff" class="a"/>
<rect x="442.9" y="450.6" width="1.1" height="4.1" fill="#fff"/>
<rect x="447.18" y="443.2" width="4" height="5.6" fill="#fff" class="a"/>
<rect x="448.78" y="450.6" width="1.1" height="4.1" fill="#fff"/>
<rect x="453.06" y="443.2" width="4" height="5.6" fill="#fff" class="a"/>
<rect x="454.66" y="450.6" width="1.1" height="4.1" fill="#fff"/>
<rect x="458.94" y="443.2" width="4" height="5.6" fill="#fff" class="a"/>
<rect x="460.54" y="450.6" width="1.1" height="4.1" fill="#fff"/>
<polyline points="480.5,443.5 470.5,443.5 470.5,452.5 473.5,452.5 473.5,456.5 480.5,456.5" fill="none" stroke="#000" stroke-width="1.4"/>
<polyline points="473.5,451.5 477.5,451.5 477.5,454.5" fill="none" stroke="#000" stroke-width="1.4"/>
<rect x="480.3" y="440.3" width="3.3" height="16.9" fill="#000" class="a"/>
<rect x="483" y="443.3" width="8" height="1" fill="#000"/>
<rect x="483" y="450.1" width="8" height="1" fill="#000"/>
<rect x="265" y="459" width="226" height="19" fill="#000" />
<rect x="266" y="460" width="224" height="17" fill="#fff" />
<rect x="265" y="463.3" width="8.5" height="1" fill="#000"/>
<rect x="265" y="470.3" width="8.5" height="1" fill="#000"/>
<rect x="273.7" y="460.3" width="3" height="16.9" fill="#000" class="a"/>
<rect x="276" y="461.3" width="204.5" height="0.9" fill="#000"/>
<rect x="285.4" y="475" width="195.1" height="0.9" fill="#000"/>
<polyline points="277.5,463.5 287.5,463.5 287.5,472.5 283.5,472.5 283.5,476.5 277.5,476.5" fill="none" stroke="#000" stroke-width="1.4"/>
<polyline points="283.5,471.5 279.5,471.5 279.5,474.5" fill="none" stroke="#000" stroke-width="1.4"/>
<rect x="291" y="462.1" width="59.4" height="13.4" fill="#000" class="a"/>
<rect x="294" y="463.2" width="4" height="5.6" fill="#fff" class="a"/>
<rect x="295.6" y="470.6" width="1.1" height="4.1" fill="#fff"/>
<rect x="299.88" y="463.2" width="4" height="5.6" fill="#fff" class="a"/>
<rect x="301.48" y="470.6" width="1.1" height="4.1" fill="#fff"/>
<rect x="305.76" y="463.2" width="4" height="5.6" fill="#fff" class="a"/>
<rect x="307.36" y="470.6" width="1.1" height="4.1" fill="#fff"/>
<rect x="311.64" y="463.2" width="4" height="5.6" fill="#fff" class="a"/>
<rect x="313.24" y="470.6" width="1.1" height="4.1" fill="#fff"/>
<rect x="317.52" y="463.2" width="4" height="5.6" fill="#fff" class="a"/>
<rect x="319.12" y="470.6" width="1.1" height="4.1" fill="#fff"/>
<rect x="323.4" y="463.2" width="4" height="5.6" fill="#fff" class="a"/>
<rect x="325" y="470.6" width="1.1" height="4.1" fill="#fff"/>
<rect x="329.28" y="463.2" width="4" height="5.6" fill="#fff" class="a"/>
<rect x="330.88" y="470.6" width="1.1" height="4.1" fill="#fff"/>
<rect x="335.16" y="463.2" width="4" height="5.6" fill="#fff" class="a"/>
<rect x="336.76" y="470.6" width="1.1" height="4.1" fill="#fff"/>
<rect x="341.04" y="463.2" width="4" height="5.6" fill="#fff" class="a"/>
<rect x="342.64" y="470.6" width="1.1" height="4.1" fill="#fff"/>
<rect x="346.92" y="463.2" width="4" height="5.6" fill="#fff" class="a"/>
<rect x="348.52" y="470.6" width="1.1" height="4.1" fill="#fff"/>
<rect x="408.2" y="462.1" width="57.5" height="13.4" fill="#000" class="a"/>
<rect x="411.9" y="463.2" width="4" height="5.6" fill="#fff" class="a"/>
<rect x="413.5" y="470.6" width="1.1" height="4.1" fill="#fff"/>
<rect x="417.78" y="463.2" width="4" height="5.6" fill="#fff" class="a"/>
<rect x="419.38" y="470.6" width="1.1" height="4.1" fill="#fff"/>
<rect x="423.66" y="463.2" width="4" height="5.6" fill="#fff" class="a"/>
<rect x="425.26" y="470.6" width="1.1" height="4.1" fill="#fff"/>
<rect x="429.54" y="463.2" width="4" height="5.6" fill="#fff" class="a"/>
<rect x="431.14" y="470.6" width="1.1" height="4.1" fill="#fff"/>
<rect x="435.42" y="463.2" width="4" height="5.6" fill="#fff" class="a"/>
<rect x="437.02" y="470.6" width="1.1" height="4.1" fill="#fff"/>
<rect x="441.3" y="463.2" width="4" height="5.6" fill="#fff" class="a"/>
<rect x="442.9" y="470.6" width="1.1" height="4.1" fill="#fff"/>
<rect x="447.18" y="463.2" width="4" height="5.6" fill="#fff" class="a"/>
<rect x="448.78" y="470.6" width="1.1" height="4.1" fill="#fff"/>
<rect x="453.06" y="463.2" width="4" height="5.6" fill="#fff" class="a"/>
<rect x="454.66" y="470.6" width="1.1" height="4.1" fill="#fff"/>
<rect x="458.94" y="463.2" width="4" height="5.6" fill="#fff" class="a"/>
<rect x="460.54" y="470.6" width="1.1" height="4.1" fill="#fff"/>
<polyline points="480.5,463.5 470.5,463.5 470.5,472.5 473.5,472.5 473.5,476.5 480.5,476.5" fill="none" stroke="#000" stroke-width="1.4"/>
<polyline points="473.5,471.5 477.5,471.5 477.5,474.5" fill="none" stroke="#000" stroke-width="1.4"/>
<rect x="480.3" y="460.3" width="3.3" height="16.9" fill="#000" class="a"/>
<rect x="483" y="463.3" width="8" height="1" fill="#000"/>
<rect x="483" y="470.1" width="8" height="1" fill="#000"/>
<rect x="350.5" y="439.4" width="57.8" height="38.4" fill="#000" class="a"/>
<rect x="351.9" y="442.6" width="55" height="13.8" fill="#fff" class="a"/>
<rect x="351.9" y="461.2" width="55" height="13.6" fill="#fff" class="a"/>
<text transform="translate(355.02 453) scale(0.72 1)" font-size="13.2" x="0 12.65 25.3 38.68 51.33 58.84">BANK 0</text>
<text transform="translate(355.02 471.7) scale(0.72 1)" font-size="13.2" x="0 12.68 25.35 38.76 51.43 58.97">BANK 1</text>
<rect x="148" y="482" width="322" height="16" fill="#000" />
<rect x="149" y="483" width="320" height="14" fill="#fff" />
<rect x="148" y="488.2" width="7.5" height="1" fill="#000"/>
<rect x="148" y="494.6" width="7.5" height="1" fill="#000"/>
<rect x="155.3" y="484" width="2.3" height="13.1" fill="#000" class="a"/>
<polyline points="158.5,484.5 167.5,484.5 167.5,487.5 169.5,487.5 169.5,495.5 159.5,495.5 159.5,484.5" fill="none" stroke="#000" stroke-width="1.3"/>
<polyline points="161.5,484.5 161.5,489.5 166.5,489.5 166.5,487.5" fill="none" stroke="#000" stroke-width="1.3"/>
<rect x="171" y="484.9" width="37" height="10.8" fill="#000" class="a"/>
<rect x="172.3" y="489.9" width="1" height="5" fill="#fff"/>
<rect x="174.98" y="489.9" width="1" height="5" fill="#fff"/>
<rect x="177.66" y="489.9" width="1" height="5" fill="#fff"/>
<rect x="180.34" y="489.9" width="1" height="5" fill="#fff"/>
<rect x="183.02" y="489.9" width="1" height="5" fill="#fff"/>
<rect x="185.7" y="489.9" width="1" height="5" fill="#fff"/>
<rect x="188.38" y="489.9" width="1" height="5" fill="#fff"/>
<rect x="191.06" y="489.9" width="1" height="5" fill="#fff"/>
<rect x="193.74" y="489.9" width="1" height="5" fill="#fff"/>
<rect x="196.42" y="489.9" width="1" height="5" fill="#fff"/>
<rect x="199.1" y="489.9" width="1" height="5" fill="#fff"/>
<rect x="201.78" y="489.9" width="1" height="5" fill="#fff"/>
<rect x="204.46" y="489.9" width="1" height="5" fill="#fff"/>
<rect x="214" y="484.9" width="69" height="10.8" fill="#000" class="a"/>
<rect x="215.3" y="489.9" width="1" height="5" fill="#fff"/>
<rect x="217.98" y="489.9" width="1" height="5" fill="#fff"/>
<rect x="220.66" y="489.9" width="1" height="5" fill="#fff"/>
<rect x="223.34" y="489.9" width="1" height="5" fill="#fff"/>
<rect x="226.02" y="489.9" width="1" height="5" fill="#fff"/>
<rect x="228.7" y="489.9" width="1" height="5" fill="#fff"/>
<rect x="231.38" y="489.9" width="1" height="5" fill="#fff"/>
<rect x="234.06" y="489.9" width="1" height="5" fill="#fff"/>
<rect x="236.74" y="489.9" width="1" height="5" fill="#fff"/>
<rect x="239.42" y="489.9" width="1" height="5" fill="#fff"/>
<rect x="242.1" y="489.9" width="1" height="5" fill="#fff"/>
<rect x="244.78" y="489.9" width="1" height="5" fill="#fff"/>
<rect x="247.46" y="489.9" width="1" height="5" fill="#fff"/>
<rect x="250.14" y="489.9" width="1" height="5" fill="#fff"/>
<rect x="252.82" y="489.9" width="1" height="5" fill="#fff"/>
<rect x="255.5" y="489.9" width="1" height="5" fill="#fff"/>
<rect x="258.18" y="489.9" width="1" height="5" fill="#fff"/>
<rect x="260.86" y="489.9" width="1" height="5" fill="#fff"/>
<rect x="263.54" y="489.9" width="1" height="5" fill="#fff"/>
<rect x="266.22" y="489.9" width="1" height="5" fill="#fff"/>
<rect x="268.9" y="489.9" width="1" height="5" fill="#fff"/>
<rect x="271.58" y="489.9" width="1" height="5" fill="#fff"/>
<rect x="274.26" y="489.9" width="1" height="5" fill="#fff"/>
<rect x="276.94" y="489.9" width="1" height="5" fill="#fff"/>
<rect x="279.62" y="489.9" width="1" height="5" fill="#fff"/>
<rect x="341.3" y="484.9" width="103.7" height="10.8" fill="#000" class="a"/>
<rect x="342.6" y="489.9" width="1" height="5" fill="#fff"/>
<rect x="345.28" y="489.9" width="1" height="5" fill="#fff"/>
<rect x="347.96" y="489.9" width="1" height="5" fill="#fff"/>
<rect x="350.64" y="489.9" width="1" height="5" fill="#fff"/>
<rect x="353.32" y="489.9" width="1" height="5" fill="#fff"/>
<rect x="356" y="489.9" width="1" height="5" fill="#fff"/>
<rect x="358.68" y="489.9" width="1" height="5" fill="#fff"/>
<rect x="361.36" y="489.9" width="1" height="5" fill="#fff"/>
<rect x="364.04" y="489.9" width="1" height="5" fill="#fff"/>
<rect x="366.72" y="489.9" width="1" height="5" fill="#fff"/>
<rect x="369.4" y="489.9" width="1" height="5" fill="#fff"/>
<rect x="372.08" y="489.9" width="1" height="5" fill="#fff"/>
<rect x="374.76" y="489.9" width="1" height="5" fill="#fff"/>
<rect x="377.44" y="489.9" width="1" height="5" fill="#fff"/>
<rect x="380.12" y="489.9" width="1" height="5" fill="#fff"/>
<rect x="382.8" y="489.9" width="1" height="5" fill="#fff"/>
<rect x="385.48" y="489.9" width="1" height="5" fill="#fff"/>
<rect x="388.16" y="489.9" width="1" height="5" fill="#fff"/>
<rect x="390.84" y="489.9" width="1" height="5" fill="#fff"/>
<rect x="393.52" y="489.9" width="1" height="5" fill="#fff"/>
<rect x="396.2" y="489.9" width="1" height="5" fill="#fff"/>
<rect x="398.88" y="489.9" width="1" height="5" fill="#fff"/>
<rect x="401.56" y="489.9" width="1" height="5" fill="#fff"/>
<rect x="404.24" y="489.9" width="1" height="5" fill="#fff"/>
<rect x="406.92" y="489.9" width="1" height="5" fill="#fff"/>
<rect x="409.6" y="489.9" width="1" height="5" fill="#fff"/>
<rect x="412.28" y="489.9" width="1" height="5" fill="#fff"/>
<rect x="414.96" y="489.9" width="1" height="5" fill="#fff"/>
<rect x="417.64" y="489.9" width="1" height="5" fill="#fff"/>
<rect x="420.32" y="489.9" width="1" height="5" fill="#fff"/>
<rect x="423" y="489.9" width="1" height="5" fill="#fff"/>
<rect x="425.68" y="489.9" width="1" height="5" fill="#fff"/>
<rect x="428.36" y="489.9" width="1" height="5" fill="#fff"/>
<rect x="431.04" y="489.9" width="1" height="5" fill="#fff"/>
<rect x="433.72" y="489.9" width="1" height="5" fill="#fff"/>
<rect x="436.4" y="489.9" width="1" height="5" fill="#fff"/>
<rect x="439.08" y="489.9" width="1" height="5" fill="#fff"/>
<rect x="441.76" y="489.9" width="1" height="5" fill="#fff"/>
<polyline points="458.5,484.5 450.5,484.5 450.5,487.5 448.5,487.5 448.5,495.5 458.5,495.5" fill="none" stroke="#000" stroke-width="1.3"/>
<polyline points="455.5,484.5 455.5,489.5 450.5,489.5 450.5,487.5" fill="none" stroke="#000" stroke-width="1.3"/>
<rect x="458" y="484" width="1.9" height="13.1" fill="#000" class="a"/>
<rect x="461" y="484" width="1" height="13.1" fill="#000"/>
<rect x="462" y="487.5" width="8" height="1" fill="#000"/>
<rect x="462" y="494.8" width="8" height="1" fill="#000"/>
<rect x="148" y="500" width="322" height="16" fill="#000" />
<rect x="149" y="501" width="320" height="14" fill="#fff" />
<rect x="148" y="506.2" width="7.5" height="1" fill="#000"/>
<rect x="148" y="512.6" width="7.5" height="1" fill="#000"/>
<rect x="155.3" y="502" width="2.3" height="13.1" fill="#000" class="a"/>
<polyline points="158.5,502.5 167.5,502.5 167.5,505.5 169.5,505.5 169.5,513.5 159.5,513.5 159.5,502.5" fill="none" stroke="#000" stroke-width="1.3"/>
<polyline points="161.5,502.5 161.5,507.5 166.5,507.5 166.5,505.5" fill="none" stroke="#000" stroke-width="1.3"/>
<rect x="171" y="502.9" width="37" height="10.8" fill="#000" class="a"/>
<rect x="172.3" y="507.9" width="1" height="5" fill="#fff"/>
<rect x="174.98" y="507.9" width="1" height="5" fill="#fff"/>
<rect x="177.66" y="507.9" width="1" height="5" fill="#fff"/>
<rect x="180.34" y="507.9" width="1" height="5" fill="#fff"/>
<rect x="183.02" y="507.9" width="1" height="5" fill="#fff"/>
<rect x="185.7" y="507.9" width="1" height="5" fill="#fff"/>
<rect x="188.38" y="507.9" width="1" height="5" fill="#fff"/>
<rect x="191.06" y="507.9" width="1" height="5" fill="#fff"/>
<rect x="193.74" y="507.9" width="1" height="5" fill="#fff"/>
<rect x="196.42" y="507.9" width="1" height="5" fill="#fff"/>
<rect x="199.1" y="507.9" width="1" height="5" fill="#fff"/>
<rect x="201.78" y="507.9" width="1" height="5" fill="#fff"/>
<rect x="204.46" y="507.9" width="1" height="5" fill="#fff"/>
<rect x="214" y="502.9" width="69" height="10.8" fill="#000" class="a"/>
<rect x="215.3" y="507.9" width="1" height="5" fill="#fff"/>
<rect x="217.98" y="507.9" width="1" height="5" fill="#fff"/>
<rect x="220.66" y="507.9" width="1" height="5" fill="#fff"/>
<rect x="223.34" y="507.9" width="1" height="5" fill="#fff"/>
<rect x="226.02" y="507.9" width="1" height="5" fill="#fff"/>
<rect x="228.7" y="507.9" width="1" height="5" fill="#fff"/>
<rect x="231.38" y="507.9" width="1" height="5" fill="#fff"/>
<rect x="234.06" y="507.9" width="1" height="5" fill="#fff"/>
<rect x="236.74" y="507.9" width="1" height="5" fill="#fff"/>
<rect x="239.42" y="507.9" width="1" height="5" fill="#fff"/>
<rect x="242.1" y="507.9" width="1" height="5" fill="#fff"/>
<rect x="244.78" y="507.9" width="1" height="5" fill="#fff"/>
<rect x="247.46" y="507.9" width="1" height="5" fill="#fff"/>
<rect x="250.14" y="507.9" width="1" height="5" fill="#fff"/>
<rect x="252.82" y="507.9" width="1" height="5" fill="#fff"/>
<rect x="255.5" y="507.9" width="1" height="5" fill="#fff"/>
<rect x="258.18" y="507.9" width="1" height="5" fill="#fff"/>
<rect x="260.86" y="507.9" width="1" height="5" fill="#fff"/>
<rect x="263.54" y="507.9" width="1" height="5" fill="#fff"/>
<rect x="266.22" y="507.9" width="1" height="5" fill="#fff"/>
<rect x="268.9" y="507.9" width="1" height="5" fill="#fff"/>
<rect x="271.58" y="507.9" width="1" height="5" fill="#fff"/>
<rect x="274.26" y="507.9" width="1" height="5" fill="#fff"/>
<rect x="276.94" y="507.9" width="1" height="5" fill="#fff"/>
<rect x="279.62" y="507.9" width="1" height="5" fill="#fff"/>
<rect x="341.3" y="502.9" width="103.7" height="10.8" fill="#000" class="a"/>
<rect x="342.6" y="507.9" width="1" height="5" fill="#fff"/>
<rect x="345.28" y="507.9" width="1" height="5" fill="#fff"/>
<rect x="347.96" y="507.9" width="1" height="5" fill="#fff"/>
<rect x="350.64" y="507.9" width="1" height="5" fill="#fff"/>
<rect x="353.32" y="507.9" width="1" height="5" fill="#fff"/>
<rect x="356" y="507.9" width="1" height="5" fill="#fff"/>
<rect x="358.68" y="507.9" width="1" height="5" fill="#fff"/>
<rect x="361.36" y="507.9" width="1" height="5" fill="#fff"/>
<rect x="364.04" y="507.9" width="1" height="5" fill="#fff"/>
<rect x="366.72" y="507.9" width="1" height="5" fill="#fff"/>
<rect x="369.4" y="507.9" width="1" height="5" fill="#fff"/>
<rect x="372.08" y="507.9" width="1" height="5" fill="#fff"/>
<rect x="374.76" y="507.9" width="1" height="5" fill="#fff"/>
<rect x="377.44" y="507.9" width="1" height="5" fill="#fff"/>
<rect x="380.12" y="507.9" width="1" height="5" fill="#fff"/>
<rect x="382.8" y="507.9" width="1" height="5" fill="#fff"/>
<rect x="385.48" y="507.9" width="1" height="5" fill="#fff"/>
<rect x="388.16" y="507.9" width="1" height="5" fill="#fff"/>
<rect x="390.84" y="507.9" width="1" height="5" fill="#fff"/>
<rect x="393.52" y="507.9" width="1" height="5" fill="#fff"/>
<rect x="396.2" y="507.9" width="1" height="5" fill="#fff"/>
<rect x="398.88" y="507.9" width="1" height="5" fill="#fff"/>
<rect x="401.56" y="507.9" width="1" height="5" fill="#fff"/>
<rect x="404.24" y="507.9" width="1" height="5" fill="#fff"/>
<rect x="406.92" y="507.9" width="1" height="5" fill="#fff"/>
<rect x="409.6" y="507.9" width="1" height="5" fill="#fff"/>
<rect x="412.28" y="507.9" width="1" height="5" fill="#fff"/>
<rect x="414.96" y="507.9" width="1" height="5" fill="#fff"/>
<rect x="417.64" y="507.9" width="1" height="5" fill="#fff"/>
<rect x="420.32" y="507.9" width="1" height="5" fill="#fff"/>
<rect x="423" y="507.9" width="1" height="5" fill="#fff"/>
<rect x="425.68" y="507.9" width="1" height="5" fill="#fff"/>
<rect x="428.36" y="507.9" width="1" height="5" fill="#fff"/>
<rect x="431.04" y="507.9" width="1" height="5" fill="#fff"/>
<rect x="433.72" y="507.9" width="1" height="5" fill="#fff"/>
<rect x="436.4" y="507.9" width="1" height="5" fill="#fff"/>
<rect x="439.08" y="507.9" width="1" height="5" fill="#fff"/>
<rect x="441.76" y="507.9" width="1" height="5" fill="#fff"/>
<polyline points="458.5,502.5 450.5,502.5 450.5,505.5 448.5,505.5 448.5,513.5 458.5,513.5" fill="none" stroke="#000" stroke-width="1.3"/>
<polyline points="455.5,502.5 455.5,507.5 450.5,507.5 450.5,505.5" fill="none" stroke="#000" stroke-width="1.3"/>
<rect x="458" y="502" width="1.9" height="13.1" fill="#000" class="a"/>
<rect x="461" y="502" width="1" height="13.1" fill="#000"/>
<rect x="462" y="505.5" width="8" height="1" fill="#000"/>
<rect x="462" y="512.8" width="8" height="1" fill="#000"/>
<rect x="282.4" y="480.2" width="57.4" height="17.6" rx="3.2" fill="#000" class="a"/>
<rect x="284.3" y="482.1" width="52.4" height="13.4" rx="1.4" fill="#fff" class="a"/>
<text transform="translate(286.26 493.5) scale(0.72 1)" font-size="14.3" x="0 12.83 25.65 39.27 52.09 59.35">BANK 2</text>
<rect x="282.4" y="500.4" width="57.4" height="17.8" rx="3.2" fill="#000" class="a"/>
<rect x="284.3" y="502.3" width="52.4" height="13.6" rx="1.4" fill="#fff" class="a"/>
<text transform="translate(288.16 513.8) scale(0.72 1)" font-size="14.3" x="0 12.28 24.56 37.63 49.91 56.63">BANK 3</text>
</svg>
</body></html>
